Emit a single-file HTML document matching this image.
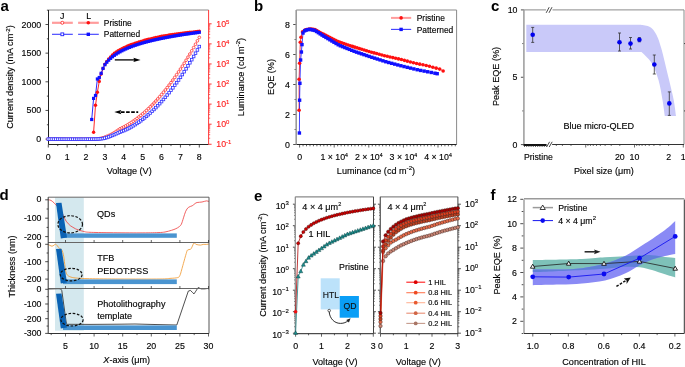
<!DOCTYPE html>
<html><head><meta charset="utf-8"><style>
html,body{margin:0;padding:0;background:#fff;width:685px;height:367px;overflow:hidden}
svg{display:block;will-change:transform}
text{font-family:"Liberation Sans",sans-serif}
</style></head><body><svg width="685" height="367" viewBox="0 0 685 367">
<rect width="685" height="367" fill="#fff"/>
<text x="0.5" y="10.5" text-anchor="start" font-size="15" fill="#000" font-weight="bold">a</text>
<line x1="48.5" y1="10" x2="208.6" y2="10" stroke="#8a8a8a" stroke-width="1" />
<line x1="45.5" y1="139.1" x2="48.5" y2="139.1" stroke="#222" stroke-width="0.8" />
<line x1="46.9" y1="124.77" x2="48.5" y2="124.77" stroke="#222" stroke-width="0.8" />
<line x1="45.5" y1="110.45" x2="48.5" y2="110.45" stroke="#222" stroke-width="0.8" />
<line x1="46.9" y1="96.12" x2="48.5" y2="96.12" stroke="#222" stroke-width="0.8" />
<line x1="45.5" y1="81.8" x2="48.5" y2="81.8" stroke="#222" stroke-width="0.8" />
<line x1="46.9" y1="67.47" x2="48.5" y2="67.47" stroke="#222" stroke-width="0.8" />
<line x1="45.5" y1="53.15" x2="48.5" y2="53.15" stroke="#222" stroke-width="0.8" />
<line x1="46.9" y1="38.83" x2="48.5" y2="38.83" stroke="#222" stroke-width="0.8" />
<line x1="45.5" y1="24.5" x2="48.5" y2="24.5" stroke="#222" stroke-width="0.8" />
<line x1="46.9" y1="10.18" x2="48.5" y2="10.18" stroke="#222" stroke-width="0.8" />
<text x="41.2" y="142.1" text-anchor="end" font-size="8.8" fill="#000"  stroke="#000" stroke-width="0.22" stroke-opacity="0.6">0</text>
<text x="41.2" y="113.45" text-anchor="end" font-size="8.8" fill="#000"  stroke="#000" stroke-width="0.22" stroke-opacity="0.6">500</text>
<text x="41.2" y="84.8" text-anchor="end" font-size="8.8" fill="#000"  stroke="#000" stroke-width="0.22" stroke-opacity="0.6">1000</text>
<text x="41.2" y="56.15" text-anchor="end" font-size="8.8" fill="#000"  stroke="#000" stroke-width="0.22" stroke-opacity="0.6">1500</text>
<text x="41.2" y="27.5" text-anchor="end" font-size="8.8" fill="#000"  stroke="#000" stroke-width="0.22" stroke-opacity="0.6">2000</text>
<line x1="48.3" y1="144.5" x2="48.3" y2="147.5" stroke="#222" stroke-width="0.8" />
<line x1="57.74" y1="144.5" x2="57.74" y2="146.1" stroke="#222" stroke-width="0.8" />
<line x1="67.17" y1="144.5" x2="67.17" y2="147.5" stroke="#222" stroke-width="0.8" />
<line x1="76.61" y1="144.5" x2="76.61" y2="146.1" stroke="#222" stroke-width="0.8" />
<line x1="86.05" y1="144.5" x2="86.05" y2="147.5" stroke="#222" stroke-width="0.8" />
<line x1="95.49" y1="144.5" x2="95.49" y2="146.1" stroke="#222" stroke-width="0.8" />
<line x1="104.92" y1="144.5" x2="104.92" y2="147.5" stroke="#222" stroke-width="0.8" />
<line x1="114.36" y1="144.5" x2="114.36" y2="146.1" stroke="#222" stroke-width="0.8" />
<line x1="123.8" y1="144.5" x2="123.8" y2="147.5" stroke="#222" stroke-width="0.8" />
<line x1="133.24" y1="144.5" x2="133.24" y2="146.1" stroke="#222" stroke-width="0.8" />
<line x1="142.68" y1="144.5" x2="142.68" y2="147.5" stroke="#222" stroke-width="0.8" />
<line x1="152.11" y1="144.5" x2="152.11" y2="146.1" stroke="#222" stroke-width="0.8" />
<line x1="161.55" y1="144.5" x2="161.55" y2="147.5" stroke="#222" stroke-width="0.8" />
<line x1="170.99" y1="144.5" x2="170.99" y2="146.1" stroke="#222" stroke-width="0.8" />
<line x1="180.43" y1="144.5" x2="180.43" y2="147.5" stroke="#222" stroke-width="0.8" />
<line x1="189.86" y1="144.5" x2="189.86" y2="146.1" stroke="#222" stroke-width="0.8" />
<line x1="199.3" y1="144.5" x2="199.3" y2="147.5" stroke="#222" stroke-width="0.8" />
<text x="48.3" y="160" text-anchor="middle" font-size="8.8" fill="#000"  stroke="#000" stroke-width="0.22" stroke-opacity="0.6">0</text>
<text x="67.17" y="160" text-anchor="middle" font-size="8.8" fill="#000"  stroke="#000" stroke-width="0.22" stroke-opacity="0.6">1</text>
<text x="86.05" y="160" text-anchor="middle" font-size="8.8" fill="#000"  stroke="#000" stroke-width="0.22" stroke-opacity="0.6">2</text>
<text x="104.92" y="160" text-anchor="middle" font-size="8.8" fill="#000"  stroke="#000" stroke-width="0.22" stroke-opacity="0.6">3</text>
<text x="123.8" y="160" text-anchor="middle" font-size="8.8" fill="#000"  stroke="#000" stroke-width="0.22" stroke-opacity="0.6">4</text>
<text x="142.68" y="160" text-anchor="middle" font-size="8.8" fill="#000"  stroke="#000" stroke-width="0.22" stroke-opacity="0.6">5</text>
<text x="161.55" y="160" text-anchor="middle" font-size="8.8" fill="#000"  stroke="#000" stroke-width="0.22" stroke-opacity="0.6">6</text>
<text x="180.43" y="160" text-anchor="middle" font-size="8.8" fill="#000"  stroke="#000" stroke-width="0.22" stroke-opacity="0.6">7</text>
<text x="199.3" y="160" text-anchor="middle" font-size="8.8" fill="#000"  stroke="#000" stroke-width="0.22" stroke-opacity="0.6">8</text>
<line x1="208.6" y1="144.28" x2="211.6" y2="144.28" stroke="#ff2020" stroke-width="0.9" />
<line x1="208.6" y1="138.24" x2="210.2" y2="138.24" stroke="#ff2020" stroke-width="0.7" />
<line x1="208.6" y1="134.7" x2="210.2" y2="134.7" stroke="#ff2020" stroke-width="0.7" />
<line x1="208.6" y1="132.19" x2="210.2" y2="132.19" stroke="#ff2020" stroke-width="0.7" />
<line x1="208.6" y1="130.24" x2="210.2" y2="130.24" stroke="#ff2020" stroke-width="0.7" />
<line x1="208.6" y1="128.65" x2="210.2" y2="128.65" stroke="#ff2020" stroke-width="0.7" />
<line x1="208.6" y1="127.31" x2="210.2" y2="127.31" stroke="#ff2020" stroke-width="0.7" />
<line x1="208.6" y1="126.15" x2="210.2" y2="126.15" stroke="#ff2020" stroke-width="0.7" />
<line x1="208.6" y1="125.12" x2="210.2" y2="125.12" stroke="#ff2020" stroke-width="0.7" />
<line x1="208.6" y1="124.2" x2="211.6" y2="124.2" stroke="#ff2020" stroke-width="0.9" />
<line x1="208.6" y1="118.16" x2="210.2" y2="118.16" stroke="#ff2020" stroke-width="0.7" />
<line x1="208.6" y1="114.62" x2="210.2" y2="114.62" stroke="#ff2020" stroke-width="0.7" />
<line x1="208.6" y1="112.11" x2="210.2" y2="112.11" stroke="#ff2020" stroke-width="0.7" />
<line x1="208.6" y1="110.16" x2="210.2" y2="110.16" stroke="#ff2020" stroke-width="0.7" />
<line x1="208.6" y1="108.57" x2="210.2" y2="108.57" stroke="#ff2020" stroke-width="0.7" />
<line x1="208.6" y1="107.23" x2="210.2" y2="107.23" stroke="#ff2020" stroke-width="0.7" />
<line x1="208.6" y1="106.07" x2="210.2" y2="106.07" stroke="#ff2020" stroke-width="0.7" />
<line x1="208.6" y1="105.04" x2="210.2" y2="105.04" stroke="#ff2020" stroke-width="0.7" />
<line x1="208.6" y1="104.12" x2="211.6" y2="104.12" stroke="#ff2020" stroke-width="0.9" />
<line x1="208.6" y1="98.08" x2="210.2" y2="98.08" stroke="#ff2020" stroke-width="0.7" />
<line x1="208.6" y1="94.54" x2="210.2" y2="94.54" stroke="#ff2020" stroke-width="0.7" />
<line x1="208.6" y1="92.03" x2="210.2" y2="92.03" stroke="#ff2020" stroke-width="0.7" />
<line x1="208.6" y1="90.08" x2="210.2" y2="90.08" stroke="#ff2020" stroke-width="0.7" />
<line x1="208.6" y1="88.49" x2="210.2" y2="88.49" stroke="#ff2020" stroke-width="0.7" />
<line x1="208.6" y1="87.15" x2="210.2" y2="87.15" stroke="#ff2020" stroke-width="0.7" />
<line x1="208.6" y1="85.99" x2="210.2" y2="85.99" stroke="#ff2020" stroke-width="0.7" />
<line x1="208.6" y1="84.96" x2="210.2" y2="84.96" stroke="#ff2020" stroke-width="0.7" />
<line x1="208.6" y1="84.04" x2="211.6" y2="84.04" stroke="#ff2020" stroke-width="0.9" />
<line x1="208.6" y1="78" x2="210.2" y2="78" stroke="#ff2020" stroke-width="0.7" />
<line x1="208.6" y1="74.46" x2="210.2" y2="74.46" stroke="#ff2020" stroke-width="0.7" />
<line x1="208.6" y1="71.95" x2="210.2" y2="71.95" stroke="#ff2020" stroke-width="0.7" />
<line x1="208.6" y1="70" x2="210.2" y2="70" stroke="#ff2020" stroke-width="0.7" />
<line x1="208.6" y1="68.41" x2="210.2" y2="68.41" stroke="#ff2020" stroke-width="0.7" />
<line x1="208.6" y1="67.07" x2="210.2" y2="67.07" stroke="#ff2020" stroke-width="0.7" />
<line x1="208.6" y1="65.91" x2="210.2" y2="65.91" stroke="#ff2020" stroke-width="0.7" />
<line x1="208.6" y1="64.88" x2="210.2" y2="64.88" stroke="#ff2020" stroke-width="0.7" />
<line x1="208.6" y1="63.96" x2="211.6" y2="63.96" stroke="#ff2020" stroke-width="0.9" />
<line x1="208.6" y1="57.92" x2="210.2" y2="57.92" stroke="#ff2020" stroke-width="0.7" />
<line x1="208.6" y1="54.38" x2="210.2" y2="54.38" stroke="#ff2020" stroke-width="0.7" />
<line x1="208.6" y1="51.87" x2="210.2" y2="51.87" stroke="#ff2020" stroke-width="0.7" />
<line x1="208.6" y1="49.92" x2="210.2" y2="49.92" stroke="#ff2020" stroke-width="0.7" />
<line x1="208.6" y1="48.33" x2="210.2" y2="48.33" stroke="#ff2020" stroke-width="0.7" />
<line x1="208.6" y1="46.99" x2="210.2" y2="46.99" stroke="#ff2020" stroke-width="0.7" />
<line x1="208.6" y1="45.83" x2="210.2" y2="45.83" stroke="#ff2020" stroke-width="0.7" />
<line x1="208.6" y1="44.8" x2="210.2" y2="44.8" stroke="#ff2020" stroke-width="0.7" />
<line x1="208.6" y1="43.88" x2="211.6" y2="43.88" stroke="#ff2020" stroke-width="0.9" />
<line x1="208.6" y1="37.84" x2="210.2" y2="37.84" stroke="#ff2020" stroke-width="0.7" />
<line x1="208.6" y1="34.3" x2="210.2" y2="34.3" stroke="#ff2020" stroke-width="0.7" />
<line x1="208.6" y1="31.79" x2="210.2" y2="31.79" stroke="#ff2020" stroke-width="0.7" />
<line x1="208.6" y1="29.84" x2="210.2" y2="29.84" stroke="#ff2020" stroke-width="0.7" />
<line x1="208.6" y1="28.25" x2="210.2" y2="28.25" stroke="#ff2020" stroke-width="0.7" />
<line x1="208.6" y1="26.91" x2="210.2" y2="26.91" stroke="#ff2020" stroke-width="0.7" />
<line x1="208.6" y1="25.75" x2="210.2" y2="25.75" stroke="#ff2020" stroke-width="0.7" />
<line x1="208.6" y1="24.72" x2="210.2" y2="24.72" stroke="#ff2020" stroke-width="0.7" />
<line x1="208.6" y1="23.8" x2="211.6" y2="23.8" stroke="#ff2020" stroke-width="0.9" />
<text x="216.3" y="147.48" text-anchor="start" font-size="8.8" fill="#ff2020"  stroke="#ff2020" stroke-width="0.22" stroke-opacity="0.6">10<tspan font-size="5.98" dy="-3.5">-1</tspan></text>
<text x="216.3" y="127.4" text-anchor="start" font-size="8.8" fill="#ff2020"  stroke="#ff2020" stroke-width="0.22" stroke-opacity="0.6">10<tspan font-size="5.98" dy="-3.5">0</tspan></text>
<text x="216.3" y="107.32" text-anchor="start" font-size="8.8" fill="#ff2020"  stroke="#ff2020" stroke-width="0.22" stroke-opacity="0.6">10<tspan font-size="5.98" dy="-3.5">1</tspan></text>
<text x="216.3" y="87.24" text-anchor="start" font-size="8.8" fill="#ff2020"  stroke="#ff2020" stroke-width="0.22" stroke-opacity="0.6">10<tspan font-size="5.98" dy="-3.5">2</tspan></text>
<text x="216.3" y="67.16" text-anchor="start" font-size="8.8" fill="#ff2020"  stroke="#ff2020" stroke-width="0.22" stroke-opacity="0.6">10<tspan font-size="5.98" dy="-3.5">3</tspan></text>
<text x="216.3" y="47.08" text-anchor="start" font-size="8.8" fill="#ff2020"  stroke="#ff2020" stroke-width="0.22" stroke-opacity="0.6">10<tspan font-size="5.98" dy="-3.5">4</tspan></text>
<text x="216.3" y="27" text-anchor="start" font-size="8.8" fill="#ff2020"  stroke="#ff2020" stroke-width="0.22" stroke-opacity="0.6">10<tspan font-size="5.98" dy="-3.5">5</tspan></text>
<line x1="48.5" y1="10" x2="48.5" y2="144.5" stroke="#222" stroke-width="1" />
<line x1="48.5" y1="144.5" x2="208.6" y2="144.5" stroke="#222" stroke-width="1" />
<line x1="208.6" y1="10" x2="208.6" y2="144.5" stroke="#ff3a3a" stroke-width="1" />
<text transform="translate(13.4,77) rotate(-90)" text-anchor="middle" font-size="9.1" fill="#000" stroke="#000" stroke-width="0.22" stroke-opacity="0.6">Current density (mA cm<tspan font-size="6.2" dy="-3.6">-2</tspan><tspan dy="3.6">)</tspan></text>
<text x="129.2" y="173.5" text-anchor="middle" font-size="9.1" fill="#000"  stroke="#000" stroke-width="0.22" stroke-opacity="0.6">Voltage (V)</text>
<text transform="translate(243.5,77) rotate(-90)" text-anchor="middle" font-size="9.1" fill="#000" stroke="#000" stroke-width="0.22" stroke-opacity="0.6">Luminance (cd m<tspan font-size="6.2" dy="-3.6">-2</tspan><tspan dy="3.6">)</tspan></text>
<polyline points="48.3,139.1 50.19,139.1 52.07,139.1 53.96,139.11 55.85,139.12 57.74,139.12 59.62,139.13 61.51,139.14 63.4,139.15 65.29,139.16 67.17,139.17 69.06,139.18 70.95,139.19 72.84,139.19 74.72,139.2 76.61,139.2 78.5,139.2 80.39,139.2 82.28,139.2 84.16,139.19 86.05,139.18 87.94,139.17 89.83,139.15 91.71,139.13 93.6,139.1 95.49,139.04 97.38,138.9 99.26,138.67 101.15,138.3 103.04,137.78 104.92,137.14 106.81,136.4 108.7,135.6 110.59,134.71 112.47,133.7 114.36,132.6 116.25,131.37 118.14,130.06 120.02,128.8 121.91,127.89 123.8,126.93 125.69,125.9 127.58,124.81 129.46,123.65 131.35,122.44 133.24,121.16 135.12,119.82 137.01,118.42 138.9,116.96 140.79,115.43 142.68,113.84 144.56,112.19 146.45,110.48 148.34,108.71 150.23,106.87 152.11,104.98 154,103.02 155.89,101 157.77,98.91 159.66,96.77 161.55,94.56 163.44,92.29 165.32,89.96 167.21,87.57 169.1,85.11 170.99,82.6 172.88,80.02 174.76,77.38 176.65,74.67 178.54,71.91 180.43,69.08 182.31,66.19 184.2,63.24 186.09,60.23 187.98,57.15 189.86,54.02 191.75,50.82 193.64,47.56 195.52,44.23 197.41,40.85 199.3,37.4" fill="none" stroke="#ff8080" stroke-width="0.8" />
<polyline points="48.3,139.1 50.19,139.1 52.07,139.1 53.96,139.11 55.85,139.11 57.74,139.12 59.62,139.12 61.51,139.13 63.4,139.14 65.29,139.14 67.17,139.15 69.06,139.16 70.95,139.16 72.84,139.17 74.72,139.17 76.61,139.17 78.5,139.18 80.39,139.18 82.28,139.18 84.16,139.17 86.05,139.17 87.94,139.16 89.83,139.15 91.71,139.14 93.6,139.12 95.49,139.1 97.38,139.05 99.26,138.95 101.15,138.77 103.04,138.5 104.92,138.09 106.81,137.53 108.7,136.9 110.59,136.19 112.47,135.41 114.36,134.6 116.25,133.78 118.14,132.93 120.02,132.1 121.91,131.39 123.8,130.62 125.69,129.78 127.58,128.88 129.46,127.92 131.35,126.88 133.24,125.79 135.12,124.63 137.01,123.4 138.9,122.11 140.79,120.75 142.68,119.33 144.56,117.85 146.45,116.3 148.34,114.68 150.23,113 152.11,111.26 154,109.45 155.89,107.58 157.77,105.64 159.66,103.63 161.55,101.57 163.44,99.43 165.32,97.23 167.21,94.97 169.1,92.64 170.99,90.25 172.88,87.79 174.76,85.27 176.65,82.69 178.54,80.03 180.43,77.32 182.31,74.54 184.2,71.69 186.09,68.78 187.98,65.8 189.86,62.76 191.75,59.66 193.64,56.49 195.52,53.25 197.41,49.95 199.3,46.59" fill="none" stroke="#6b6bff" stroke-width="0.8" />
<circle cx="48.3" cy="139.1" r="1.35" fill="#fff" stroke="#ff3030" stroke-width="0.8"/>
<circle cx="50.19" cy="139.1" r="1.35" fill="#fff" stroke="#ff3030" stroke-width="0.8"/>
<circle cx="52.07" cy="139.1" r="1.35" fill="#fff" stroke="#ff3030" stroke-width="0.8"/>
<circle cx="53.96" cy="139.11" r="1.35" fill="#fff" stroke="#ff3030" stroke-width="0.8"/>
<circle cx="55.85" cy="139.12" r="1.35" fill="#fff" stroke="#ff3030" stroke-width="0.8"/>
<circle cx="57.74" cy="139.12" r="1.35" fill="#fff" stroke="#ff3030" stroke-width="0.8"/>
<circle cx="59.62" cy="139.13" r="1.35" fill="#fff" stroke="#ff3030" stroke-width="0.8"/>
<circle cx="61.51" cy="139.14" r="1.35" fill="#fff" stroke="#ff3030" stroke-width="0.8"/>
<circle cx="63.4" cy="139.15" r="1.35" fill="#fff" stroke="#ff3030" stroke-width="0.8"/>
<circle cx="65.29" cy="139.16" r="1.35" fill="#fff" stroke="#ff3030" stroke-width="0.8"/>
<circle cx="67.17" cy="139.17" r="1.35" fill="#fff" stroke="#ff3030" stroke-width="0.8"/>
<circle cx="69.06" cy="139.18" r="1.35" fill="#fff" stroke="#ff3030" stroke-width="0.8"/>
<circle cx="70.95" cy="139.19" r="1.35" fill="#fff" stroke="#ff3030" stroke-width="0.8"/>
<circle cx="72.84" cy="139.19" r="1.35" fill="#fff" stroke="#ff3030" stroke-width="0.8"/>
<circle cx="74.72" cy="139.2" r="1.35" fill="#fff" stroke="#ff3030" stroke-width="0.8"/>
<circle cx="76.61" cy="139.2" r="1.35" fill="#fff" stroke="#ff3030" stroke-width="0.8"/>
<circle cx="78.5" cy="139.2" r="1.35" fill="#fff" stroke="#ff3030" stroke-width="0.8"/>
<circle cx="80.39" cy="139.2" r="1.35" fill="#fff" stroke="#ff3030" stroke-width="0.8"/>
<circle cx="82.28" cy="139.2" r="1.35" fill="#fff" stroke="#ff3030" stroke-width="0.8"/>
<circle cx="84.16" cy="139.19" r="1.35" fill="#fff" stroke="#ff3030" stroke-width="0.8"/>
<circle cx="86.05" cy="139.18" r="1.35" fill="#fff" stroke="#ff3030" stroke-width="0.8"/>
<circle cx="87.94" cy="139.17" r="1.35" fill="#fff" stroke="#ff3030" stroke-width="0.8"/>
<circle cx="89.83" cy="139.15" r="1.35" fill="#fff" stroke="#ff3030" stroke-width="0.8"/>
<circle cx="91.71" cy="139.13" r="1.35" fill="#fff" stroke="#ff3030" stroke-width="0.8"/>
<circle cx="93.6" cy="139.1" r="1.35" fill="#fff" stroke="#ff3030" stroke-width="0.8"/>
<circle cx="95.49" cy="139.04" r="1.35" fill="#fff" stroke="#ff3030" stroke-width="0.8"/>
<circle cx="97.38" cy="138.9" r="1.35" fill="#fff" stroke="#ff3030" stroke-width="0.8"/>
<circle cx="99.26" cy="138.67" r="1.35" fill="#fff" stroke="#ff3030" stroke-width="0.8"/>
<circle cx="101.15" cy="138.3" r="1.35" fill="#fff" stroke="#ff3030" stroke-width="0.8"/>
<circle cx="103.04" cy="137.78" r="1.35" fill="#fff" stroke="#ff3030" stroke-width="0.8"/>
<circle cx="104.92" cy="137.14" r="1.35" fill="#fff" stroke="#ff3030" stroke-width="0.8"/>
<circle cx="106.81" cy="136.4" r="1.35" fill="#fff" stroke="#ff3030" stroke-width="0.8"/>
<circle cx="108.7" cy="135.6" r="1.35" fill="#fff" stroke="#ff3030" stroke-width="0.8"/>
<circle cx="110.59" cy="134.71" r="1.35" fill="#fff" stroke="#ff3030" stroke-width="0.8"/>
<circle cx="112.47" cy="133.7" r="1.35" fill="#fff" stroke="#ff3030" stroke-width="0.8"/>
<circle cx="114.36" cy="132.6" r="1.35" fill="#fff" stroke="#ff3030" stroke-width="0.8"/>
<circle cx="116.25" cy="131.37" r="1.35" fill="#fff" stroke="#ff3030" stroke-width="0.8"/>
<circle cx="118.14" cy="130.06" r="1.35" fill="#fff" stroke="#ff3030" stroke-width="0.8"/>
<circle cx="120.02" cy="128.8" r="1.35" fill="#fff" stroke="#ff3030" stroke-width="0.8"/>
<circle cx="121.91" cy="127.89" r="1.35" fill="#fff" stroke="#ff3030" stroke-width="0.8"/>
<circle cx="123.8" cy="126.93" r="1.35" fill="#fff" stroke="#ff3030" stroke-width="0.8"/>
<circle cx="125.69" cy="125.9" r="1.35" fill="#fff" stroke="#ff3030" stroke-width="0.8"/>
<circle cx="127.58" cy="124.81" r="1.35" fill="#fff" stroke="#ff3030" stroke-width="0.8"/>
<circle cx="129.46" cy="123.65" r="1.35" fill="#fff" stroke="#ff3030" stroke-width="0.8"/>
<circle cx="131.35" cy="122.44" r="1.35" fill="#fff" stroke="#ff3030" stroke-width="0.8"/>
<circle cx="133.24" cy="121.16" r="1.35" fill="#fff" stroke="#ff3030" stroke-width="0.8"/>
<circle cx="135.12" cy="119.82" r="1.35" fill="#fff" stroke="#ff3030" stroke-width="0.8"/>
<circle cx="137.01" cy="118.42" r="1.35" fill="#fff" stroke="#ff3030" stroke-width="0.8"/>
<circle cx="138.9" cy="116.96" r="1.35" fill="#fff" stroke="#ff3030" stroke-width="0.8"/>
<circle cx="140.79" cy="115.43" r="1.35" fill="#fff" stroke="#ff3030" stroke-width="0.8"/>
<circle cx="142.68" cy="113.84" r="1.35" fill="#fff" stroke="#ff3030" stroke-width="0.8"/>
<circle cx="144.56" cy="112.19" r="1.35" fill="#fff" stroke="#ff3030" stroke-width="0.8"/>
<circle cx="146.45" cy="110.48" r="1.35" fill="#fff" stroke="#ff3030" stroke-width="0.8"/>
<circle cx="148.34" cy="108.71" r="1.35" fill="#fff" stroke="#ff3030" stroke-width="0.8"/>
<circle cx="150.23" cy="106.87" r="1.35" fill="#fff" stroke="#ff3030" stroke-width="0.8"/>
<circle cx="152.11" cy="104.98" r="1.35" fill="#fff" stroke="#ff3030" stroke-width="0.8"/>
<circle cx="154" cy="103.02" r="1.35" fill="#fff" stroke="#ff3030" stroke-width="0.8"/>
<circle cx="155.89" cy="101" r="1.35" fill="#fff" stroke="#ff3030" stroke-width="0.8"/>
<circle cx="157.77" cy="98.91" r="1.35" fill="#fff" stroke="#ff3030" stroke-width="0.8"/>
<circle cx="159.66" cy="96.77" r="1.35" fill="#fff" stroke="#ff3030" stroke-width="0.8"/>
<circle cx="161.55" cy="94.56" r="1.35" fill="#fff" stroke="#ff3030" stroke-width="0.8"/>
<circle cx="163.44" cy="92.29" r="1.35" fill="#fff" stroke="#ff3030" stroke-width="0.8"/>
<circle cx="165.32" cy="89.96" r="1.35" fill="#fff" stroke="#ff3030" stroke-width="0.8"/>
<circle cx="167.21" cy="87.57" r="1.35" fill="#fff" stroke="#ff3030" stroke-width="0.8"/>
<circle cx="169.1" cy="85.11" r="1.35" fill="#fff" stroke="#ff3030" stroke-width="0.8"/>
<circle cx="170.99" cy="82.6" r="1.35" fill="#fff" stroke="#ff3030" stroke-width="0.8"/>
<circle cx="172.88" cy="80.02" r="1.35" fill="#fff" stroke="#ff3030" stroke-width="0.8"/>
<circle cx="174.76" cy="77.38" r="1.35" fill="#fff" stroke="#ff3030" stroke-width="0.8"/>
<circle cx="176.65" cy="74.67" r="1.35" fill="#fff" stroke="#ff3030" stroke-width="0.8"/>
<circle cx="178.54" cy="71.91" r="1.35" fill="#fff" stroke="#ff3030" stroke-width="0.8"/>
<circle cx="180.43" cy="69.08" r="1.35" fill="#fff" stroke="#ff3030" stroke-width="0.8"/>
<circle cx="182.31" cy="66.19" r="1.35" fill="#fff" stroke="#ff3030" stroke-width="0.8"/>
<circle cx="184.2" cy="63.24" r="1.35" fill="#fff" stroke="#ff3030" stroke-width="0.8"/>
<circle cx="186.09" cy="60.23" r="1.35" fill="#fff" stroke="#ff3030" stroke-width="0.8"/>
<circle cx="187.98" cy="57.15" r="1.35" fill="#fff" stroke="#ff3030" stroke-width="0.8"/>
<circle cx="189.86" cy="54.02" r="1.35" fill="#fff" stroke="#ff3030" stroke-width="0.8"/>
<circle cx="191.75" cy="50.82" r="1.35" fill="#fff" stroke="#ff3030" stroke-width="0.8"/>
<circle cx="193.64" cy="47.56" r="1.35" fill="#fff" stroke="#ff3030" stroke-width="0.8"/>
<circle cx="195.52" cy="44.23" r="1.35" fill="#fff" stroke="#ff3030" stroke-width="0.8"/>
<circle cx="197.41" cy="40.85" r="1.35" fill="#fff" stroke="#ff3030" stroke-width="0.8"/>
<circle cx="199.3" cy="37.4" r="1.35" fill="#fff" stroke="#ff3030" stroke-width="0.8"/>
<rect x="47" y="137.8" width="2.6" height="2.6" fill="#fff" stroke="#3030ff" stroke-width="0.8" />
<rect x="48.89" y="137.8" width="2.6" height="2.6" fill="#fff" stroke="#3030ff" stroke-width="0.8" />
<rect x="50.77" y="137.8" width="2.6" height="2.6" fill="#fff" stroke="#3030ff" stroke-width="0.8" />
<rect x="52.66" y="137.81" width="2.6" height="2.6" fill="#fff" stroke="#3030ff" stroke-width="0.8" />
<rect x="54.55" y="137.81" width="2.6" height="2.6" fill="#fff" stroke="#3030ff" stroke-width="0.8" />
<rect x="56.44" y="137.82" width="2.6" height="2.6" fill="#fff" stroke="#3030ff" stroke-width="0.8" />
<rect x="58.33" y="137.82" width="2.6" height="2.6" fill="#fff" stroke="#3030ff" stroke-width="0.8" />
<rect x="60.21" y="137.83" width="2.6" height="2.6" fill="#fff" stroke="#3030ff" stroke-width="0.8" />
<rect x="62.1" y="137.84" width="2.6" height="2.6" fill="#fff" stroke="#3030ff" stroke-width="0.8" />
<rect x="63.99" y="137.84" width="2.6" height="2.6" fill="#fff" stroke="#3030ff" stroke-width="0.8" />
<rect x="65.88" y="137.85" width="2.6" height="2.6" fill="#fff" stroke="#3030ff" stroke-width="0.8" />
<rect x="67.76" y="137.86" width="2.6" height="2.6" fill="#fff" stroke="#3030ff" stroke-width="0.8" />
<rect x="69.65" y="137.86" width="2.6" height="2.6" fill="#fff" stroke="#3030ff" stroke-width="0.8" />
<rect x="71.54" y="137.87" width="2.6" height="2.6" fill="#fff" stroke="#3030ff" stroke-width="0.8" />
<rect x="73.42" y="137.87" width="2.6" height="2.6" fill="#fff" stroke="#3030ff" stroke-width="0.8" />
<rect x="75.31" y="137.87" width="2.6" height="2.6" fill="#fff" stroke="#3030ff" stroke-width="0.8" />
<rect x="77.2" y="137.88" width="2.6" height="2.6" fill="#fff" stroke="#3030ff" stroke-width="0.8" />
<rect x="79.09" y="137.88" width="2.6" height="2.6" fill="#fff" stroke="#3030ff" stroke-width="0.8" />
<rect x="80.98" y="137.88" width="2.6" height="2.6" fill="#fff" stroke="#3030ff" stroke-width="0.8" />
<rect x="82.86" y="137.87" width="2.6" height="2.6" fill="#fff" stroke="#3030ff" stroke-width="0.8" />
<rect x="84.75" y="137.87" width="2.6" height="2.6" fill="#fff" stroke="#3030ff" stroke-width="0.8" />
<rect x="86.64" y="137.86" width="2.6" height="2.6" fill="#fff" stroke="#3030ff" stroke-width="0.8" />
<rect x="88.53" y="137.85" width="2.6" height="2.6" fill="#fff" stroke="#3030ff" stroke-width="0.8" />
<rect x="90.41" y="137.84" width="2.6" height="2.6" fill="#fff" stroke="#3030ff" stroke-width="0.8" />
<rect x="92.3" y="137.82" width="2.6" height="2.6" fill="#fff" stroke="#3030ff" stroke-width="0.8" />
<rect x="94.19" y="137.8" width="2.6" height="2.6" fill="#fff" stroke="#3030ff" stroke-width="0.8" />
<rect x="96.08" y="137.75" width="2.6" height="2.6" fill="#fff" stroke="#3030ff" stroke-width="0.8" />
<rect x="97.96" y="137.65" width="2.6" height="2.6" fill="#fff" stroke="#3030ff" stroke-width="0.8" />
<rect x="99.85" y="137.47" width="2.6" height="2.6" fill="#fff" stroke="#3030ff" stroke-width="0.8" />
<rect x="101.74" y="137.2" width="2.6" height="2.6" fill="#fff" stroke="#3030ff" stroke-width="0.8" />
<rect x="103.62" y="136.79" width="2.6" height="2.6" fill="#fff" stroke="#3030ff" stroke-width="0.8" />
<rect x="105.51" y="136.23" width="2.6" height="2.6" fill="#fff" stroke="#3030ff" stroke-width="0.8" />
<rect x="107.4" y="135.6" width="2.6" height="2.6" fill="#fff" stroke="#3030ff" stroke-width="0.8" />
<rect x="109.29" y="134.89" width="2.6" height="2.6" fill="#fff" stroke="#3030ff" stroke-width="0.8" />
<rect x="111.17" y="134.11" width="2.6" height="2.6" fill="#fff" stroke="#3030ff" stroke-width="0.8" />
<rect x="113.06" y="133.3" width="2.6" height="2.6" fill="#fff" stroke="#3030ff" stroke-width="0.8" />
<rect x="114.95" y="132.48" width="2.6" height="2.6" fill="#fff" stroke="#3030ff" stroke-width="0.8" />
<rect x="116.84" y="131.63" width="2.6" height="2.6" fill="#fff" stroke="#3030ff" stroke-width="0.8" />
<rect x="118.72" y="130.8" width="2.6" height="2.6" fill="#fff" stroke="#3030ff" stroke-width="0.8" />
<rect x="120.61" y="130.09" width="2.6" height="2.6" fill="#fff" stroke="#3030ff" stroke-width="0.8" />
<rect x="122.5" y="129.32" width="2.6" height="2.6" fill="#fff" stroke="#3030ff" stroke-width="0.8" />
<rect x="124.39" y="128.48" width="2.6" height="2.6" fill="#fff" stroke="#3030ff" stroke-width="0.8" />
<rect x="126.28" y="127.58" width="2.6" height="2.6" fill="#fff" stroke="#3030ff" stroke-width="0.8" />
<rect x="128.16" y="126.62" width="2.6" height="2.6" fill="#fff" stroke="#3030ff" stroke-width="0.8" />
<rect x="130.05" y="125.58" width="2.6" height="2.6" fill="#fff" stroke="#3030ff" stroke-width="0.8" />
<rect x="131.94" y="124.49" width="2.6" height="2.6" fill="#fff" stroke="#3030ff" stroke-width="0.8" />
<rect x="133.82" y="123.33" width="2.6" height="2.6" fill="#fff" stroke="#3030ff" stroke-width="0.8" />
<rect x="135.71" y="122.1" width="2.6" height="2.6" fill="#fff" stroke="#3030ff" stroke-width="0.8" />
<rect x="137.6" y="120.81" width="2.6" height="2.6" fill="#fff" stroke="#3030ff" stroke-width="0.8" />
<rect x="139.49" y="119.45" width="2.6" height="2.6" fill="#fff" stroke="#3030ff" stroke-width="0.8" />
<rect x="141.38" y="118.03" width="2.6" height="2.6" fill="#fff" stroke="#3030ff" stroke-width="0.8" />
<rect x="143.26" y="116.55" width="2.6" height="2.6" fill="#fff" stroke="#3030ff" stroke-width="0.8" />
<rect x="145.15" y="115" width="2.6" height="2.6" fill="#fff" stroke="#3030ff" stroke-width="0.8" />
<rect x="147.04" y="113.38" width="2.6" height="2.6" fill="#fff" stroke="#3030ff" stroke-width="0.8" />
<rect x="148.93" y="111.7" width="2.6" height="2.6" fill="#fff" stroke="#3030ff" stroke-width="0.8" />
<rect x="150.81" y="109.96" width="2.6" height="2.6" fill="#fff" stroke="#3030ff" stroke-width="0.8" />
<rect x="152.7" y="108.15" width="2.6" height="2.6" fill="#fff" stroke="#3030ff" stroke-width="0.8" />
<rect x="154.59" y="106.28" width="2.6" height="2.6" fill="#fff" stroke="#3030ff" stroke-width="0.8" />
<rect x="156.47" y="104.34" width="2.6" height="2.6" fill="#fff" stroke="#3030ff" stroke-width="0.8" />
<rect x="158.36" y="102.33" width="2.6" height="2.6" fill="#fff" stroke="#3030ff" stroke-width="0.8" />
<rect x="160.25" y="100.27" width="2.6" height="2.6" fill="#fff" stroke="#3030ff" stroke-width="0.8" />
<rect x="162.14" y="98.13" width="2.6" height="2.6" fill="#fff" stroke="#3030ff" stroke-width="0.8" />
<rect x="164.02" y="95.93" width="2.6" height="2.6" fill="#fff" stroke="#3030ff" stroke-width="0.8" />
<rect x="165.91" y="93.67" width="2.6" height="2.6" fill="#fff" stroke="#3030ff" stroke-width="0.8" />
<rect x="167.8" y="91.34" width="2.6" height="2.6" fill="#fff" stroke="#3030ff" stroke-width="0.8" />
<rect x="169.69" y="88.95" width="2.6" height="2.6" fill="#fff" stroke="#3030ff" stroke-width="0.8" />
<rect x="171.57" y="86.49" width="2.6" height="2.6" fill="#fff" stroke="#3030ff" stroke-width="0.8" />
<rect x="173.46" y="83.97" width="2.6" height="2.6" fill="#fff" stroke="#3030ff" stroke-width="0.8" />
<rect x="175.35" y="81.39" width="2.6" height="2.6" fill="#fff" stroke="#3030ff" stroke-width="0.8" />
<rect x="177.24" y="78.73" width="2.6" height="2.6" fill="#fff" stroke="#3030ff" stroke-width="0.8" />
<rect x="179.12" y="76.02" width="2.6" height="2.6" fill="#fff" stroke="#3030ff" stroke-width="0.8" />
<rect x="181.01" y="73.24" width="2.6" height="2.6" fill="#fff" stroke="#3030ff" stroke-width="0.8" />
<rect x="182.9" y="70.39" width="2.6" height="2.6" fill="#fff" stroke="#3030ff" stroke-width="0.8" />
<rect x="184.79" y="67.48" width="2.6" height="2.6" fill="#fff" stroke="#3030ff" stroke-width="0.8" />
<rect x="186.68" y="64.5" width="2.6" height="2.6" fill="#fff" stroke="#3030ff" stroke-width="0.8" />
<rect x="188.56" y="61.46" width="2.6" height="2.6" fill="#fff" stroke="#3030ff" stroke-width="0.8" />
<rect x="190.45" y="58.36" width="2.6" height="2.6" fill="#fff" stroke="#3030ff" stroke-width="0.8" />
<rect x="192.34" y="55.19" width="2.6" height="2.6" fill="#fff" stroke="#3030ff" stroke-width="0.8" />
<rect x="194.22" y="51.95" width="2.6" height="2.6" fill="#fff" stroke="#3030ff" stroke-width="0.8" />
<rect x="196.11" y="48.65" width="2.6" height="2.6" fill="#fff" stroke="#3030ff" stroke-width="0.8" />
<rect x="198" y="45.29" width="2.6" height="2.6" fill="#fff" stroke="#3030ff" stroke-width="0.8" />
<polyline points="93.6,132.3 95.49,105.3 97.38,92.3 99.26,81.4 101.15,74 103.04,68.5 104.92,64.19 106.81,61.41 108.7,59.01 110.59,56.88 112.47,54.97 114.36,53.23 116.25,51.94 118.14,50.77 120.02,49.69 121.91,48.68 123.8,47.75 125.69,46.88 127.58,46.06 129.46,45.29 131.35,44.56 133.24,43.87 135.12,43.21 137.01,42.58 138.9,41.98 140.79,41.4 142.68,40.85 144.56,40.32 146.45,39.81 148.34,39.32 150.23,38.85 152.11,38.39 154,37.94 155.89,37.52 157.77,37.1 159.66,36.7 161.55,36.31 163.44,35.98 165.32,35.66 167.21,35.36 169.1,35.06 170.99,34.78 172.88,34.5 174.76,34.23 176.65,33.96 178.54,33.71 180.43,33.46 182.31,33.22 184.2,32.98 186.09,32.75 187.98,32.53 189.86,32.31 191.75,32.1 193.64,31.89 195.52,31.69 197.41,31.49 199.3,31.3" fill="none" stroke="#ff1010" stroke-width="0.9" />
<polyline points="91.71,119.5 93.6,98.4 95.49,95.5 97.38,79 99.26,77.5 101.15,73.3 103.04,68.4 104.92,64.7 106.81,62.23 108.7,60.15 110.59,58.34 112.47,56.75 114.36,55.33 116.25,54.04 118.14,52.87 120.02,51.79 121.91,50.78 123.8,49.85 125.69,48.98 127.58,48.16 129.46,47.39 131.35,46.66 133.24,45.97 135.12,45.31 137.01,44.68 138.9,44.08 140.79,43.5 142.68,42.95 144.56,42.42 146.45,41.91 148.34,41.42 150.23,40.95 152.11,40.49 154,40.04 155.89,39.62 157.77,39.2 159.66,38.8 161.55,38.41 163.44,38.02 165.32,37.65 167.21,37.29 169.1,36.94 170.99,36.6 172.88,36.27 174.76,35.94 176.65,35.62 178.54,35.31 180.43,35.01 182.31,34.71 184.2,34.42 186.09,34.14 187.98,33.86 189.86,33.59 191.75,33.32 193.64,33.06 195.52,32.8 197.41,32.55 199.3,32.3" fill="none" stroke="#1010ff" stroke-width="0.9" />
<circle cx="93.6" cy="132.3" r="1.7" fill="#ff1010" stroke="none" stroke-width="0"/>
<circle cx="95.49" cy="105.3" r="1.7" fill="#ff1010" stroke="none" stroke-width="0"/>
<circle cx="97.38" cy="92.3" r="1.7" fill="#ff1010" stroke="none" stroke-width="0"/>
<circle cx="99.26" cy="81.4" r="1.7" fill="#ff1010" stroke="none" stroke-width="0"/>
<circle cx="101.15" cy="74" r="1.7" fill="#ff1010" stroke="none" stroke-width="0"/>
<circle cx="103.04" cy="68.5" r="1.7" fill="#ff1010" stroke="none" stroke-width="0"/>
<circle cx="104.92" cy="64.19" r="1.7" fill="#ff1010" stroke="none" stroke-width="0"/>
<circle cx="106.81" cy="61.41" r="1.7" fill="#ff1010" stroke="none" stroke-width="0"/>
<circle cx="108.7" cy="59.01" r="1.7" fill="#ff1010" stroke="none" stroke-width="0"/>
<circle cx="110.59" cy="56.88" r="1.7" fill="#ff1010" stroke="none" stroke-width="0"/>
<circle cx="112.47" cy="54.97" r="1.7" fill="#ff1010" stroke="none" stroke-width="0"/>
<circle cx="114.36" cy="53.23" r="1.7" fill="#ff1010" stroke="none" stroke-width="0"/>
<circle cx="116.25" cy="51.94" r="1.7" fill="#ff1010" stroke="none" stroke-width="0"/>
<circle cx="118.14" cy="50.77" r="1.7" fill="#ff1010" stroke="none" stroke-width="0"/>
<circle cx="120.02" cy="49.69" r="1.7" fill="#ff1010" stroke="none" stroke-width="0"/>
<circle cx="121.91" cy="48.68" r="1.7" fill="#ff1010" stroke="none" stroke-width="0"/>
<circle cx="123.8" cy="47.75" r="1.7" fill="#ff1010" stroke="none" stroke-width="0"/>
<circle cx="125.69" cy="46.88" r="1.7" fill="#ff1010" stroke="none" stroke-width="0"/>
<circle cx="127.58" cy="46.06" r="1.7" fill="#ff1010" stroke="none" stroke-width="0"/>
<circle cx="129.46" cy="45.29" r="1.7" fill="#ff1010" stroke="none" stroke-width="0"/>
<circle cx="131.35" cy="44.56" r="1.7" fill="#ff1010" stroke="none" stroke-width="0"/>
<circle cx="133.24" cy="43.87" r="1.7" fill="#ff1010" stroke="none" stroke-width="0"/>
<circle cx="135.12" cy="43.21" r="1.7" fill="#ff1010" stroke="none" stroke-width="0"/>
<circle cx="137.01" cy="42.58" r="1.7" fill="#ff1010" stroke="none" stroke-width="0"/>
<circle cx="138.9" cy="41.98" r="1.7" fill="#ff1010" stroke="none" stroke-width="0"/>
<circle cx="140.79" cy="41.4" r="1.7" fill="#ff1010" stroke="none" stroke-width="0"/>
<circle cx="142.68" cy="40.85" r="1.7" fill="#ff1010" stroke="none" stroke-width="0"/>
<circle cx="144.56" cy="40.32" r="1.7" fill="#ff1010" stroke="none" stroke-width="0"/>
<circle cx="146.45" cy="39.81" r="1.7" fill="#ff1010" stroke="none" stroke-width="0"/>
<circle cx="148.34" cy="39.32" r="1.7" fill="#ff1010" stroke="none" stroke-width="0"/>
<circle cx="150.23" cy="38.85" r="1.7" fill="#ff1010" stroke="none" stroke-width="0"/>
<circle cx="152.11" cy="38.39" r="1.7" fill="#ff1010" stroke="none" stroke-width="0"/>
<circle cx="154" cy="37.94" r="1.7" fill="#ff1010" stroke="none" stroke-width="0"/>
<circle cx="155.89" cy="37.52" r="1.7" fill="#ff1010" stroke="none" stroke-width="0"/>
<circle cx="157.77" cy="37.1" r="1.7" fill="#ff1010" stroke="none" stroke-width="0"/>
<circle cx="159.66" cy="36.7" r="1.7" fill="#ff1010" stroke="none" stroke-width="0"/>
<circle cx="161.55" cy="36.31" r="1.7" fill="#ff1010" stroke="none" stroke-width="0"/>
<circle cx="163.44" cy="35.98" r="1.7" fill="#ff1010" stroke="none" stroke-width="0"/>
<circle cx="165.32" cy="35.66" r="1.7" fill="#ff1010" stroke="none" stroke-width="0"/>
<circle cx="167.21" cy="35.36" r="1.7" fill="#ff1010" stroke="none" stroke-width="0"/>
<circle cx="169.1" cy="35.06" r="1.7" fill="#ff1010" stroke="none" stroke-width="0"/>
<circle cx="170.99" cy="34.78" r="1.7" fill="#ff1010" stroke="none" stroke-width="0"/>
<circle cx="172.88" cy="34.5" r="1.7" fill="#ff1010" stroke="none" stroke-width="0"/>
<circle cx="174.76" cy="34.23" r="1.7" fill="#ff1010" stroke="none" stroke-width="0"/>
<circle cx="176.65" cy="33.96" r="1.7" fill="#ff1010" stroke="none" stroke-width="0"/>
<circle cx="178.54" cy="33.71" r="1.7" fill="#ff1010" stroke="none" stroke-width="0"/>
<circle cx="180.43" cy="33.46" r="1.7" fill="#ff1010" stroke="none" stroke-width="0"/>
<circle cx="182.31" cy="33.22" r="1.7" fill="#ff1010" stroke="none" stroke-width="0"/>
<circle cx="184.2" cy="32.98" r="1.7" fill="#ff1010" stroke="none" stroke-width="0"/>
<circle cx="186.09" cy="32.75" r="1.7" fill="#ff1010" stroke="none" stroke-width="0"/>
<circle cx="187.98" cy="32.53" r="1.7" fill="#ff1010" stroke="none" stroke-width="0"/>
<circle cx="189.86" cy="32.31" r="1.7" fill="#ff1010" stroke="none" stroke-width="0"/>
<circle cx="191.75" cy="32.1" r="1.7" fill="#ff1010" stroke="none" stroke-width="0"/>
<circle cx="193.64" cy="31.89" r="1.7" fill="#ff1010" stroke="none" stroke-width="0"/>
<circle cx="195.52" cy="31.69" r="1.7" fill="#ff1010" stroke="none" stroke-width="0"/>
<circle cx="197.41" cy="31.49" r="1.7" fill="#ff1010" stroke="none" stroke-width="0"/>
<circle cx="199.3" cy="31.3" r="1.7" fill="#ff1010" stroke="none" stroke-width="0"/>
<rect x="90.11" y="117.9" width="3.2" height="3.2" fill="#1010ff" stroke="none" stroke-width="0" />
<rect x="92" y="96.8" width="3.2" height="3.2" fill="#1010ff" stroke="none" stroke-width="0" />
<rect x="93.89" y="93.9" width="3.2" height="3.2" fill="#1010ff" stroke="none" stroke-width="0" />
<rect x="95.78" y="77.4" width="3.2" height="3.2" fill="#1010ff" stroke="none" stroke-width="0" />
<rect x="97.66" y="75.9" width="3.2" height="3.2" fill="#1010ff" stroke="none" stroke-width="0" />
<rect x="99.55" y="71.7" width="3.2" height="3.2" fill="#1010ff" stroke="none" stroke-width="0" />
<rect x="101.44" y="66.8" width="3.2" height="3.2" fill="#1010ff" stroke="none" stroke-width="0" />
<rect x="103.33" y="63.1" width="3.2" height="3.2" fill="#1010ff" stroke="none" stroke-width="0" />
<rect x="105.21" y="60.63" width="3.2" height="3.2" fill="#1010ff" stroke="none" stroke-width="0" />
<rect x="107.1" y="58.55" width="3.2" height="3.2" fill="#1010ff" stroke="none" stroke-width="0" />
<rect x="108.99" y="56.74" width="3.2" height="3.2" fill="#1010ff" stroke="none" stroke-width="0" />
<rect x="110.88" y="55.15" width="3.2" height="3.2" fill="#1010ff" stroke="none" stroke-width="0" />
<rect x="112.76" y="53.73" width="3.2" height="3.2" fill="#1010ff" stroke="none" stroke-width="0" />
<rect x="114.65" y="52.44" width="3.2" height="3.2" fill="#1010ff" stroke="none" stroke-width="0" />
<rect x="116.54" y="51.27" width="3.2" height="3.2" fill="#1010ff" stroke="none" stroke-width="0" />
<rect x="118.42" y="50.19" width="3.2" height="3.2" fill="#1010ff" stroke="none" stroke-width="0" />
<rect x="120.31" y="49.18" width="3.2" height="3.2" fill="#1010ff" stroke="none" stroke-width="0" />
<rect x="122.2" y="48.25" width="3.2" height="3.2" fill="#1010ff" stroke="none" stroke-width="0" />
<rect x="124.09" y="47.38" width="3.2" height="3.2" fill="#1010ff" stroke="none" stroke-width="0" />
<rect x="125.98" y="46.56" width="3.2" height="3.2" fill="#1010ff" stroke="none" stroke-width="0" />
<rect x="127.86" y="45.79" width="3.2" height="3.2" fill="#1010ff" stroke="none" stroke-width="0" />
<rect x="129.75" y="45.06" width="3.2" height="3.2" fill="#1010ff" stroke="none" stroke-width="0" />
<rect x="131.64" y="44.37" width="3.2" height="3.2" fill="#1010ff" stroke="none" stroke-width="0" />
<rect x="133.53" y="43.71" width="3.2" height="3.2" fill="#1010ff" stroke="none" stroke-width="0" />
<rect x="135.41" y="43.08" width="3.2" height="3.2" fill="#1010ff" stroke="none" stroke-width="0" />
<rect x="137.3" y="42.48" width="3.2" height="3.2" fill="#1010ff" stroke="none" stroke-width="0" />
<rect x="139.19" y="41.9" width="3.2" height="3.2" fill="#1010ff" stroke="none" stroke-width="0" />
<rect x="141.08" y="41.35" width="3.2" height="3.2" fill="#1010ff" stroke="none" stroke-width="0" />
<rect x="142.96" y="40.82" width="3.2" height="3.2" fill="#1010ff" stroke="none" stroke-width="0" />
<rect x="144.85" y="40.31" width="3.2" height="3.2" fill="#1010ff" stroke="none" stroke-width="0" />
<rect x="146.74" y="39.82" width="3.2" height="3.2" fill="#1010ff" stroke="none" stroke-width="0" />
<rect x="148.63" y="39.35" width="3.2" height="3.2" fill="#1010ff" stroke="none" stroke-width="0" />
<rect x="150.51" y="38.89" width="3.2" height="3.2" fill="#1010ff" stroke="none" stroke-width="0" />
<rect x="152.4" y="38.44" width="3.2" height="3.2" fill="#1010ff" stroke="none" stroke-width="0" />
<rect x="154.29" y="38.02" width="3.2" height="3.2" fill="#1010ff" stroke="none" stroke-width="0" />
<rect x="156.17" y="37.6" width="3.2" height="3.2" fill="#1010ff" stroke="none" stroke-width="0" />
<rect x="158.06" y="37.2" width="3.2" height="3.2" fill="#1010ff" stroke="none" stroke-width="0" />
<rect x="159.95" y="36.81" width="3.2" height="3.2" fill="#1010ff" stroke="none" stroke-width="0" />
<rect x="161.84" y="36.42" width="3.2" height="3.2" fill="#1010ff" stroke="none" stroke-width="0" />
<rect x="163.72" y="36.05" width="3.2" height="3.2" fill="#1010ff" stroke="none" stroke-width="0" />
<rect x="165.61" y="35.69" width="3.2" height="3.2" fill="#1010ff" stroke="none" stroke-width="0" />
<rect x="167.5" y="35.34" width="3.2" height="3.2" fill="#1010ff" stroke="none" stroke-width="0" />
<rect x="169.39" y="35" width="3.2" height="3.2" fill="#1010ff" stroke="none" stroke-width="0" />
<rect x="171.28" y="34.67" width="3.2" height="3.2" fill="#1010ff" stroke="none" stroke-width="0" />
<rect x="173.16" y="34.34" width="3.2" height="3.2" fill="#1010ff" stroke="none" stroke-width="0" />
<rect x="175.05" y="34.02" width="3.2" height="3.2" fill="#1010ff" stroke="none" stroke-width="0" />
<rect x="176.94" y="33.71" width="3.2" height="3.2" fill="#1010ff" stroke="none" stroke-width="0" />
<rect x="178.83" y="33.41" width="3.2" height="3.2" fill="#1010ff" stroke="none" stroke-width="0" />
<rect x="180.71" y="33.11" width="3.2" height="3.2" fill="#1010ff" stroke="none" stroke-width="0" />
<rect x="182.6" y="32.82" width="3.2" height="3.2" fill="#1010ff" stroke="none" stroke-width="0" />
<rect x="184.49" y="32.54" width="3.2" height="3.2" fill="#1010ff" stroke="none" stroke-width="0" />
<rect x="186.38" y="32.26" width="3.2" height="3.2" fill="#1010ff" stroke="none" stroke-width="0" />
<rect x="188.26" y="31.99" width="3.2" height="3.2" fill="#1010ff" stroke="none" stroke-width="0" />
<rect x="190.15" y="31.72" width="3.2" height="3.2" fill="#1010ff" stroke="none" stroke-width="0" />
<rect x="192.04" y="31.46" width="3.2" height="3.2" fill="#1010ff" stroke="none" stroke-width="0" />
<rect x="193.92" y="31.2" width="3.2" height="3.2" fill="#1010ff" stroke="none" stroke-width="0" />
<rect x="195.81" y="30.95" width="3.2" height="3.2" fill="#1010ff" stroke="none" stroke-width="0" />
<rect x="197.7" y="30.7" width="3.2" height="3.2" fill="#1010ff" stroke="none" stroke-width="0" />
<line x1="114.8" y1="59.9" x2="135" y2="59.9" stroke="#000" stroke-width="1.3" />
<path d="M140.6,59.9 L133.4,57.8 L134.4,59.9 L133.4,62 Z" fill="#000"/>
<line x1="121" y1="112.1" x2="138.2" y2="112.1" stroke="#000" stroke-width="1.6" stroke-dasharray="3.6,1.5"/>
<path d="M114.3,112.1 L121.3,110 L120.3,112.1 L121.3,114.2 Z" fill="#000"/>
<text x="62.3" y="18.9" text-anchor="middle" font-size="8.8" fill="#000"  stroke="#000" stroke-width="0.22" stroke-opacity="0.6">J</text>
<text x="88.6" y="18.9" text-anchor="middle" font-size="8.8" fill="#000"  stroke="#000" stroke-width="0.22" stroke-opacity="0.6">L</text>
<line x1="52" y1="22.8" x2="72.8" y2="22.8" stroke="#ff9c9c" stroke-width="2.2" />
<line x1="78.1" y1="22.8" x2="98.8" y2="22.8" stroke="#ff9c9c" stroke-width="2.2" />
<circle cx="62.3" cy="22.8" r="1.5" fill="#fff" stroke="#ff3030" stroke-width="0.9"/>
<circle cx="88.3" cy="22.8" r="1.8" fill="#ff1010" stroke="none" stroke-width="0"/>
<text x="103.8" y="26.4" text-anchor="start" font-size="8.4" fill="#000"  stroke="#000" stroke-width="0.22" stroke-opacity="0.6">Pristine</text>
<line x1="52" y1="34.3" x2="72.8" y2="34.3" stroke="#3a3aff" stroke-width="1.1" />
<line x1="78.1" y1="34.3" x2="98.8" y2="34.3" stroke="#3a3aff" stroke-width="1.1" />
<rect x="60.9" y="32.9" width="2.8" height="2.8" fill="#fff" stroke="#2020ff" stroke-width="0.9" />
<rect x="86.6" y="32.6" width="3.4" height="3.4" fill="#1010ff" stroke="none" stroke-width="0" />
<text x="103.8" y="37.4" text-anchor="start" font-size="8.4" fill="#000"  stroke="#000" stroke-width="0.22" stroke-opacity="0.6">Patterned</text>
<text x="254" y="10.6" text-anchor="start" font-size="15" fill="#000" font-weight="bold">b</text>
<line x1="296.2" y1="10" x2="456.6" y2="10" stroke="#8a8a8a" stroke-width="1" />
<line x1="456.6" y1="10" x2="456.6" y2="144.5" stroke="#8a8a8a" stroke-width="1" />
<line x1="293.2" y1="144.5" x2="296.2" y2="144.5" stroke="#222" stroke-width="0.8" />
<line x1="294.6" y1="129.5" x2="296.2" y2="129.5" stroke="#222" stroke-width="0.8" />
<line x1="293.2" y1="114.5" x2="296.2" y2="114.5" stroke="#222" stroke-width="0.8" />
<line x1="294.6" y1="99.5" x2="296.2" y2="99.5" stroke="#222" stroke-width="0.8" />
<line x1="293.2" y1="84.5" x2="296.2" y2="84.5" stroke="#222" stroke-width="0.8" />
<line x1="294.6" y1="69.5" x2="296.2" y2="69.5" stroke="#222" stroke-width="0.8" />
<line x1="293.2" y1="54.5" x2="296.2" y2="54.5" stroke="#222" stroke-width="0.8" />
<line x1="294.6" y1="39.5" x2="296.2" y2="39.5" stroke="#222" stroke-width="0.8" />
<line x1="293.2" y1="24.5" x2="296.2" y2="24.5" stroke="#222" stroke-width="0.8" />
<text x="290" y="147.5" text-anchor="end" font-size="8.8" fill="#000"  stroke="#000" stroke-width="0.22" stroke-opacity="0.6">0</text>
<text x="290" y="117.5" text-anchor="end" font-size="8.8" fill="#000"  stroke="#000" stroke-width="0.22" stroke-opacity="0.6">2</text>
<text x="290" y="87.5" text-anchor="end" font-size="8.8" fill="#000"  stroke="#000" stroke-width="0.22" stroke-opacity="0.6">4</text>
<text x="290" y="57.5" text-anchor="end" font-size="8.8" fill="#000"  stroke="#000" stroke-width="0.22" stroke-opacity="0.6">6</text>
<text x="290" y="27.5" text-anchor="end" font-size="8.8" fill="#000"  stroke="#000" stroke-width="0.22" stroke-opacity="0.6">8</text>
<line x1="299.6" y1="144.5" x2="299.6" y2="147.5" stroke="#222" stroke-width="0.7" />
<line x1="303.06" y1="144.5" x2="303.06" y2="146.3" stroke="#222" stroke-width="0.7" />
<line x1="306.52" y1="144.5" x2="306.52" y2="146.3" stroke="#222" stroke-width="0.7" />
<line x1="309.98" y1="144.5" x2="309.98" y2="146.3" stroke="#222" stroke-width="0.7" />
<line x1="313.44" y1="144.5" x2="313.44" y2="146.3" stroke="#222" stroke-width="0.7" />
<line x1="316.9" y1="144.5" x2="316.9" y2="146.3" stroke="#222" stroke-width="0.7" />
<line x1="320.36" y1="144.5" x2="320.36" y2="146.3" stroke="#222" stroke-width="0.7" />
<line x1="323.82" y1="144.5" x2="323.82" y2="146.3" stroke="#222" stroke-width="0.7" />
<line x1="327.28" y1="144.5" x2="327.28" y2="146.3" stroke="#222" stroke-width="0.7" />
<line x1="330.74" y1="144.5" x2="330.74" y2="146.3" stroke="#222" stroke-width="0.7" />
<line x1="334.2" y1="144.5" x2="334.2" y2="147.5" stroke="#222" stroke-width="0.7" />
<line x1="337.66" y1="144.5" x2="337.66" y2="146.3" stroke="#222" stroke-width="0.7" />
<line x1="341.12" y1="144.5" x2="341.12" y2="146.3" stroke="#222" stroke-width="0.7" />
<line x1="344.58" y1="144.5" x2="344.58" y2="146.3" stroke="#222" stroke-width="0.7" />
<line x1="348.04" y1="144.5" x2="348.04" y2="146.3" stroke="#222" stroke-width="0.7" />
<line x1="351.5" y1="144.5" x2="351.5" y2="146.3" stroke="#222" stroke-width="0.7" />
<line x1="354.96" y1="144.5" x2="354.96" y2="146.3" stroke="#222" stroke-width="0.7" />
<line x1="358.42" y1="144.5" x2="358.42" y2="146.3" stroke="#222" stroke-width="0.7" />
<line x1="361.88" y1="144.5" x2="361.88" y2="146.3" stroke="#222" stroke-width="0.7" />
<line x1="365.34" y1="144.5" x2="365.34" y2="146.3" stroke="#222" stroke-width="0.7" />
<line x1="368.8" y1="144.5" x2="368.8" y2="147.5" stroke="#222" stroke-width="0.7" />
<line x1="372.26" y1="144.5" x2="372.26" y2="146.3" stroke="#222" stroke-width="0.7" />
<line x1="375.72" y1="144.5" x2="375.72" y2="146.3" stroke="#222" stroke-width="0.7" />
<line x1="379.18" y1="144.5" x2="379.18" y2="146.3" stroke="#222" stroke-width="0.7" />
<line x1="382.64" y1="144.5" x2="382.64" y2="146.3" stroke="#222" stroke-width="0.7" />
<line x1="386.1" y1="144.5" x2="386.1" y2="146.3" stroke="#222" stroke-width="0.7" />
<line x1="389.56" y1="144.5" x2="389.56" y2="146.3" stroke="#222" stroke-width="0.7" />
<line x1="393.02" y1="144.5" x2="393.02" y2="146.3" stroke="#222" stroke-width="0.7" />
<line x1="396.48" y1="144.5" x2="396.48" y2="146.3" stroke="#222" stroke-width="0.7" />
<line x1="399.94" y1="144.5" x2="399.94" y2="146.3" stroke="#222" stroke-width="0.7" />
<line x1="403.4" y1="144.5" x2="403.4" y2="147.5" stroke="#222" stroke-width="0.7" />
<line x1="406.86" y1="144.5" x2="406.86" y2="146.3" stroke="#222" stroke-width="0.7" />
<line x1="410.32" y1="144.5" x2="410.32" y2="146.3" stroke="#222" stroke-width="0.7" />
<line x1="413.78" y1="144.5" x2="413.78" y2="146.3" stroke="#222" stroke-width="0.7" />
<line x1="417.24" y1="144.5" x2="417.24" y2="146.3" stroke="#222" stroke-width="0.7" />
<line x1="420.7" y1="144.5" x2="420.7" y2="146.3" stroke="#222" stroke-width="0.7" />
<line x1="424.16" y1="144.5" x2="424.16" y2="146.3" stroke="#222" stroke-width="0.7" />
<line x1="427.62" y1="144.5" x2="427.62" y2="146.3" stroke="#222" stroke-width="0.7" />
<line x1="431.08" y1="144.5" x2="431.08" y2="146.3" stroke="#222" stroke-width="0.7" />
<line x1="434.54" y1="144.5" x2="434.54" y2="146.3" stroke="#222" stroke-width="0.7" />
<line x1="438" y1="144.5" x2="438" y2="147.5" stroke="#222" stroke-width="0.7" />
<line x1="441.46" y1="144.5" x2="441.46" y2="146.3" stroke="#222" stroke-width="0.7" />
<line x1="444.92" y1="144.5" x2="444.92" y2="146.3" stroke="#222" stroke-width="0.7" />
<line x1="448.38" y1="144.5" x2="448.38" y2="146.3" stroke="#222" stroke-width="0.7" />
<line x1="451.84" y1="144.5" x2="451.84" y2="146.3" stroke="#222" stroke-width="0.7" />
<line x1="455.3" y1="144.5" x2="455.3" y2="146.3" stroke="#222" stroke-width="0.7" />
<line x1="296.2" y1="144.5" x2="456.6" y2="144.5" stroke="#222" stroke-width="1" />
<line x1="296.2" y1="10" x2="296.2" y2="144.5" stroke="#9a9a9a" stroke-width="1.6" />
<text x="299.6" y="160" text-anchor="middle" font-size="8.8" fill="#000"  stroke="#000" stroke-width="0.22" stroke-opacity="0.6">0</text>
<text x="334.2" y="160" text-anchor="middle" font-size="8.8" fill="#000" stroke="#000" stroke-width="0.22" stroke-opacity="0.6">1 × 10<tspan font-size="5.2" dy="-3.3">4</tspan></text>
<text x="368.8" y="160" text-anchor="middle" font-size="8.8" fill="#000" stroke="#000" stroke-width="0.22" stroke-opacity="0.6">2 × 10<tspan font-size="5.2" dy="-3.3">4</tspan></text>
<text x="403.4" y="160" text-anchor="middle" font-size="8.8" fill="#000" stroke="#000" stroke-width="0.22" stroke-opacity="0.6">3 × 10<tspan font-size="5.2" dy="-3.3">4</tspan></text>
<text x="438" y="160" text-anchor="middle" font-size="8.8" fill="#000" stroke="#000" stroke-width="0.22" stroke-opacity="0.6">4 × 10<tspan font-size="5.2" dy="-3.3">4</tspan></text>
<text transform="translate(273.6,77) rotate(-90)" text-anchor="middle" font-size="9.1" fill="#000" stroke="#000" stroke-width="0.22" stroke-opacity="0.6">EQE (%)</text>
<text x="376" y="173.5" text-anchor="middle" font-size="9.1" fill="#000" stroke="#000" stroke-width="0.22" stroke-opacity="0.6">Luminance (cd m<tspan font-size="6.2" dy="-3.6">-2</tspan><tspan dy="3.6">)</tspan></text>
<polyline points="299.1,110.2 299.1,79.2 299.6,63.2 300.3,42.2 301,37.3 302.5,31.9 305,30 309.6,28.9 315,29.6 322.7,33.8 339.1,42 355.5,47.4 370,51.8 385,55.8 400.8,59.4 414.7,63.1 428.2,65.9 440,69.2 444,71.4" fill="none" stroke="#ff1010" stroke-width="0.8" />
<polyline points="299.4,133 299.6,100.2 299.9,83.3 300.6,60 301.4,52 302,44.6 303,33 305,30.3 309.6,29.3 315,30.5 322.7,35.5 339.1,45.3 355.5,51.8 370,56.7 386,61.8 402.5,66.2 418.4,70 433.5,72.9 437.2,73.7" fill="none" stroke="#1010ff" stroke-width="0.8" />
<circle cx="299.1" cy="110.2" r="1.8" fill="#ff1010" stroke="none" stroke-width="0"/>
<circle cx="299.1" cy="79.2" r="1.8" fill="#ff1010" stroke="none" stroke-width="0"/>
<circle cx="299.6" cy="63.2" r="1.8" fill="#ff1010" stroke="none" stroke-width="0"/>
<circle cx="300.3" cy="42.2" r="1.8" fill="#ff1010" stroke="none" stroke-width="0"/>
<circle cx="301" cy="37.3" r="1.8" fill="#ff1010" stroke="none" stroke-width="0"/>
<circle cx="302.5" cy="31.9" r="1.8" fill="#ff1010" stroke="none" stroke-width="0"/>
<circle cx="305" cy="30" r="1.8" fill="#ff1010" stroke="none" stroke-width="0"/>
<circle cx="306.6" cy="29.62" r="1.8" fill="#ff1010" stroke="none" stroke-width="0"/>
<circle cx="308.22" cy="29.23" r="1.8" fill="#ff1010" stroke="none" stroke-width="0"/>
<circle cx="309.87" cy="28.93" r="1.8" fill="#ff1010" stroke="none" stroke-width="0"/>
<circle cx="311.54" cy="29.15" r="1.8" fill="#ff1010" stroke="none" stroke-width="0"/>
<circle cx="313.23" cy="29.37" r="1.8" fill="#ff1010" stroke="none" stroke-width="0"/>
<circle cx="314.94" cy="29.59" r="1.8" fill="#ff1010" stroke="none" stroke-width="0"/>
<circle cx="316.68" cy="30.52" r="1.8" fill="#ff1010" stroke="none" stroke-width="0"/>
<circle cx="318.45" cy="31.48" r="1.8" fill="#ff1010" stroke="none" stroke-width="0"/>
<circle cx="320.23" cy="32.45" r="1.8" fill="#ff1010" stroke="none" stroke-width="0"/>
<circle cx="322.05" cy="33.44" r="1.8" fill="#ff1010" stroke="none" stroke-width="0"/>
<circle cx="323.89" cy="34.39" r="1.8" fill="#ff1010" stroke="none" stroke-width="0"/>
<circle cx="325.75" cy="35.32" r="1.8" fill="#ff1010" stroke="none" stroke-width="0"/>
<circle cx="327.64" cy="36.27" r="1.8" fill="#ff1010" stroke="none" stroke-width="0"/>
<circle cx="329.56" cy="37.23" r="1.8" fill="#ff1010" stroke="none" stroke-width="0"/>
<circle cx="331.5" cy="38.2" r="1.8" fill="#ff1010" stroke="none" stroke-width="0"/>
<circle cx="333.47" cy="39.19" r="1.8" fill="#ff1010" stroke="none" stroke-width="0"/>
<circle cx="335.47" cy="40.19" r="1.8" fill="#ff1010" stroke="none" stroke-width="0"/>
<circle cx="337.5" cy="41.2" r="1.8" fill="#ff1010" stroke="none" stroke-width="0"/>
<circle cx="339.55" cy="42.15" r="1.8" fill="#ff1010" stroke="none" stroke-width="0"/>
<circle cx="341.64" cy="42.83" r="1.8" fill="#ff1010" stroke="none" stroke-width="0"/>
<circle cx="343.75" cy="43.53" r="1.8" fill="#ff1010" stroke="none" stroke-width="0"/>
<circle cx="345.89" cy="44.24" r="1.8" fill="#ff1010" stroke="none" stroke-width="0"/>
<circle cx="348.06" cy="44.95" r="1.8" fill="#ff1010" stroke="none" stroke-width="0"/>
<circle cx="350.27" cy="45.68" r="1.8" fill="#ff1010" stroke="none" stroke-width="0"/>
<circle cx="352.5" cy="46.41" r="1.8" fill="#ff1010" stroke="none" stroke-width="0"/>
<circle cx="354.77" cy="47.16" r="1.8" fill="#ff1010" stroke="none" stroke-width="0"/>
<circle cx="357.06" cy="47.87" r="1.8" fill="#ff1010" stroke="none" stroke-width="0"/>
<circle cx="359.39" cy="48.58" r="1.8" fill="#ff1010" stroke="none" stroke-width="0"/>
<circle cx="361.75" cy="49.3" r="1.8" fill="#ff1010" stroke="none" stroke-width="0"/>
<circle cx="364.15" cy="50.02" r="1.8" fill="#ff1010" stroke="none" stroke-width="0"/>
<circle cx="366.57" cy="50.76" r="1.8" fill="#ff1010" stroke="none" stroke-width="0"/>
<circle cx="369.04" cy="51.51" r="1.8" fill="#ff1010" stroke="none" stroke-width="0"/>
<circle cx="371.53" cy="52.21" r="1.8" fill="#ff1010" stroke="none" stroke-width="0"/>
<circle cx="374.06" cy="52.88" r="1.8" fill="#ff1010" stroke="none" stroke-width="0"/>
<circle cx="376.63" cy="53.57" r="1.8" fill="#ff1010" stroke="none" stroke-width="0"/>
<circle cx="379.23" cy="54.26" r="1.8" fill="#ff1010" stroke="none" stroke-width="0"/>
<circle cx="381.87" cy="54.97" r="1.8" fill="#ff1010" stroke="none" stroke-width="0"/>
<circle cx="384.55" cy="55.68" r="1.8" fill="#ff1010" stroke="none" stroke-width="0"/>
<circle cx="387.26" cy="56.32" r="1.8" fill="#ff1010" stroke="none" stroke-width="0"/>
<circle cx="390.02" cy="56.94" r="1.8" fill="#ff1010" stroke="none" stroke-width="0"/>
<circle cx="392.81" cy="57.58" r="1.8" fill="#ff1010" stroke="none" stroke-width="0"/>
<circle cx="395.64" cy="58.22" r="1.8" fill="#ff1010" stroke="none" stroke-width="0"/>
<circle cx="398.5" cy="58.88" r="1.8" fill="#ff1010" stroke="none" stroke-width="0"/>
<circle cx="401.41" cy="59.56" r="1.8" fill="#ff1010" stroke="none" stroke-width="0"/>
<circle cx="404.36" cy="60.35" r="1.8" fill="#ff1010" stroke="none" stroke-width="0"/>
<circle cx="407.35" cy="61.14" r="1.8" fill="#ff1010" stroke="none" stroke-width="0"/>
<circle cx="410.39" cy="61.95" r="1.8" fill="#ff1010" stroke="none" stroke-width="0"/>
<circle cx="413.46" cy="62.77" r="1.8" fill="#ff1010" stroke="none" stroke-width="0"/>
<circle cx="416.58" cy="63.49" r="1.8" fill="#ff1010" stroke="none" stroke-width="0"/>
<circle cx="419.74" cy="64.15" r="1.8" fill="#ff1010" stroke="none" stroke-width="0"/>
<circle cx="422.95" cy="64.81" r="1.8" fill="#ff1010" stroke="none" stroke-width="0"/>
<circle cx="426.2" cy="65.49" r="1.8" fill="#ff1010" stroke="none" stroke-width="0"/>
<circle cx="429.5" cy="66.26" r="1.8" fill="#ff1010" stroke="none" stroke-width="0"/>
<circle cx="432.84" cy="67.2" r="1.8" fill="#ff1010" stroke="none" stroke-width="0"/>
<circle cx="436.23" cy="68.15" r="1.8" fill="#ff1010" stroke="none" stroke-width="0"/>
<circle cx="439.67" cy="69.11" r="1.8" fill="#ff1010" stroke="none" stroke-width="0"/>
<circle cx="443.15" cy="70.93" r="1.8" fill="#ff1010" stroke="none" stroke-width="0"/>
<rect x="297.7" y="131.3" width="3.4" height="3.4" fill="#1010ff" stroke="none" stroke-width="0" />
<rect x="297.9" y="98.5" width="3.4" height="3.4" fill="#1010ff" stroke="none" stroke-width="0" />
<rect x="298.2" y="81.6" width="3.4" height="3.4" fill="#1010ff" stroke="none" stroke-width="0" />
<rect x="298.9" y="58.3" width="3.4" height="3.4" fill="#1010ff" stroke="none" stroke-width="0" />
<rect x="299.7" y="50.3" width="3.4" height="3.4" fill="#1010ff" stroke="none" stroke-width="0" />
<rect x="300.3" y="42.9" width="3.4" height="3.4" fill="#1010ff" stroke="none" stroke-width="0" />
<rect x="301.3" y="31.3" width="3.4" height="3.4" fill="#1010ff" stroke="none" stroke-width="0" />
<rect x="302.9" y="29.14" width="3.4" height="3.4" fill="#1010ff" stroke="none" stroke-width="0" />
<rect x="304.53" y="28.33" width="3.4" height="3.4" fill="#1010ff" stroke="none" stroke-width="0" />
<rect x="306.18" y="27.97" width="3.4" height="3.4" fill="#1010ff" stroke="none" stroke-width="0" />
<rect x="307.86" y="27.61" width="3.4" height="3.4" fill="#1010ff" stroke="none" stroke-width="0" />
<rect x="309.56" y="27.97" width="3.4" height="3.4" fill="#1010ff" stroke="none" stroke-width="0" />
<rect x="311.29" y="28.35" width="3.4" height="3.4" fill="#1010ff" stroke="none" stroke-width="0" />
<rect x="313.05" y="28.74" width="3.4" height="3.4" fill="#1010ff" stroke="none" stroke-width="0" />
<rect x="314.84" y="29.8" width="3.4" height="3.4" fill="#1010ff" stroke="none" stroke-width="0" />
<rect x="316.66" y="30.98" width="3.4" height="3.4" fill="#1010ff" stroke="none" stroke-width="0" />
<rect x="318.5" y="32.18" width="3.4" height="3.4" fill="#1010ff" stroke="none" stroke-width="0" />
<rect x="320.38" y="33.4" width="3.4" height="3.4" fill="#1010ff" stroke="none" stroke-width="0" />
<rect x="322.28" y="34.57" width="3.4" height="3.4" fill="#1010ff" stroke="none" stroke-width="0" />
<rect x="324.22" y="35.72" width="3.4" height="3.4" fill="#1010ff" stroke="none" stroke-width="0" />
<rect x="326.19" y="36.9" width="3.4" height="3.4" fill="#1010ff" stroke="none" stroke-width="0" />
<rect x="328.18" y="38.09" width="3.4" height="3.4" fill="#1010ff" stroke="none" stroke-width="0" />
<rect x="330.21" y="39.31" width="3.4" height="3.4" fill="#1010ff" stroke="none" stroke-width="0" />
<rect x="332.28" y="40.54" width="3.4" height="3.4" fill="#1010ff" stroke="none" stroke-width="0" />
<rect x="334.37" y="41.79" width="3.4" height="3.4" fill="#1010ff" stroke="none" stroke-width="0" />
<rect x="336.5" y="43.06" width="3.4" height="3.4" fill="#1010ff" stroke="none" stroke-width="0" />
<rect x="338.66" y="44.1" width="3.4" height="3.4" fill="#1010ff" stroke="none" stroke-width="0" />
<rect x="340.86" y="44.97" width="3.4" height="3.4" fill="#1010ff" stroke="none" stroke-width="0" />
<rect x="343.1" y="45.86" width="3.4" height="3.4" fill="#1010ff" stroke="none" stroke-width="0" />
<rect x="345.36" y="46.76" width="3.4" height="3.4" fill="#1010ff" stroke="none" stroke-width="0" />
<rect x="347.67" y="47.67" width="3.4" height="3.4" fill="#1010ff" stroke="none" stroke-width="0" />
<rect x="350.01" y="48.6" width="3.4" height="3.4" fill="#1010ff" stroke="none" stroke-width="0" />
<rect x="352.39" y="49.54" width="3.4" height="3.4" fill="#1010ff" stroke="none" stroke-width="0" />
<rect x="354.81" y="50.44" width="3.4" height="3.4" fill="#1010ff" stroke="none" stroke-width="0" />
<rect x="357.26" y="51.27" width="3.4" height="3.4" fill="#1010ff" stroke="none" stroke-width="0" />
<rect x="359.76" y="52.11" width="3.4" height="3.4" fill="#1010ff" stroke="none" stroke-width="0" />
<rect x="362.29" y="52.97" width="3.4" height="3.4" fill="#1010ff" stroke="none" stroke-width="0" />
<rect x="364.87" y="53.84" width="3.4" height="3.4" fill="#1010ff" stroke="none" stroke-width="0" />
<rect x="367.49" y="54.73" width="3.4" height="3.4" fill="#1010ff" stroke="none" stroke-width="0" />
<rect x="370.15" y="55.59" width="3.4" height="3.4" fill="#1010ff" stroke="none" stroke-width="0" />
<rect x="372.85" y="56.45" width="3.4" height="3.4" fill="#1010ff" stroke="none" stroke-width="0" />
<rect x="375.59" y="57.32" width="3.4" height="3.4" fill="#1010ff" stroke="none" stroke-width="0" />
<rect x="378.38" y="58.21" width="3.4" height="3.4" fill="#1010ff" stroke="none" stroke-width="0" />
<rect x="381.21" y="59.12" width="3.4" height="3.4" fill="#1010ff" stroke="none" stroke-width="0" />
<rect x="384.09" y="60.03" width="3.4" height="3.4" fill="#1010ff" stroke="none" stroke-width="0" />
<rect x="387.02" y="60.82" width="3.4" height="3.4" fill="#1010ff" stroke="none" stroke-width="0" />
<rect x="389.99" y="61.62" width="3.4" height="3.4" fill="#1010ff" stroke="none" stroke-width="0" />
<rect x="393.01" y="62.42" width="3.4" height="3.4" fill="#1010ff" stroke="none" stroke-width="0" />
<rect x="396.08" y="63.24" width="3.4" height="3.4" fill="#1010ff" stroke="none" stroke-width="0" />
<rect x="399.19" y="64.07" width="3.4" height="3.4" fill="#1010ff" stroke="none" stroke-width="0" />
<rect x="402.36" y="64.87" width="3.4" height="3.4" fill="#1010ff" stroke="none" stroke-width="0" />
<rect x="405.58" y="65.64" width="3.4" height="3.4" fill="#1010ff" stroke="none" stroke-width="0" />
<rect x="408.84" y="66.42" width="3.4" height="3.4" fill="#1010ff" stroke="none" stroke-width="0" />
<rect x="412.16" y="67.22" width="3.4" height="3.4" fill="#1010ff" stroke="none" stroke-width="0" />
<rect x="415.54" y="68.02" width="3.4" height="3.4" fill="#1010ff" stroke="none" stroke-width="0" />
<rect x="418.97" y="68.74" width="3.4" height="3.4" fill="#1010ff" stroke="none" stroke-width="0" />
<rect x="422.45" y="69.4" width="3.4" height="3.4" fill="#1010ff" stroke="none" stroke-width="0" />
<rect x="425.99" y="70.08" width="3.4" height="3.4" fill="#1010ff" stroke="none" stroke-width="0" />
<rect x="429.58" y="70.77" width="3.4" height="3.4" fill="#1010ff" stroke="none" stroke-width="0" />
<rect x="433.24" y="71.51" width="3.4" height="3.4" fill="#1010ff" stroke="none" stroke-width="0" />
<rect x="435.5" y="72" width="3.4" height="3.4" fill="#1010ff" stroke="none" stroke-width="0" />
<line x1="391" y1="17.9" x2="411.2" y2="17.9" stroke="#ff9c9c" stroke-width="2" />
<circle cx="401.1" cy="17.9" r="1.8" fill="#ff1010" stroke="none" stroke-width="0"/>
<text x="416.7" y="21.1" text-anchor="start" font-size="8.45" fill="#000"  stroke="#000" stroke-width="0.22" stroke-opacity="0.6">Pristine</text>
<line x1="391" y1="29.4" x2="411.2" y2="29.4" stroke="#3a3aff" stroke-width="1.1" />
<rect x="399.4" y="27.7" width="3.4" height="3.4" fill="#1010ff" stroke="none" stroke-width="0" />
<text x="416.7" y="32.5" text-anchor="start" font-size="8.45" fill="#000"  stroke="#000" stroke-width="0.22" stroke-opacity="0.6">Patterned</text>
<text x="491" y="11.2" text-anchor="start" font-size="15" fill="#000" font-weight="bold">c</text>
<path d="M526.3,24.8 L641,24.8 C642.5,25.17 647.5,25.47 650,27 C652.5,28.53 654.13,30.5 656,34 C657.87,37.5 659.1,40.67 661.2,48 C663.3,55.33 666.52,69.33 668.6,78 C670.68,86.67 672.47,93.67 673.7,100 C674.93,106.33 675.62,113.33 676,116 L664.8,116 C664.42,113.33 663.55,106 662.5,100 C661.45,94 660.32,86.17 658.5,80 C656.68,73.83 654.43,67.67 651.6,63 C648.77,58.33 643.18,53.83 641.5,52 L526.3,52 Z" fill="#c9c9f9"/>
<line x1="523.9" y1="9.9" x2="684" y2="9.9" stroke="#8a8a8a" stroke-width="1" />
<line x1="684" y1="9.9" x2="684" y2="144.5" stroke="#8a8a8a" stroke-width="1" />
<line x1="520.9" y1="144.6" x2="523.9" y2="144.6" stroke="#222" stroke-width="0.8" />
<line x1="684" y1="144.6" x2="684" y2="144.6" stroke="#222" stroke-width="0.8" />
<line x1="522.3" y1="110.92" x2="523.9" y2="110.92" stroke="#222" stroke-width="0.8" />
<line x1="684" y1="110.92" x2="685.6" y2="110.92" stroke="#222" stroke-width="0.8" />
<line x1="520.9" y1="77.25" x2="523.9" y2="77.25" stroke="#222" stroke-width="0.8" />
<line x1="684" y1="77.25" x2="684" y2="77.25" stroke="#222" stroke-width="0.8" />
<line x1="522.3" y1="43.57" x2="523.9" y2="43.57" stroke="#222" stroke-width="0.8" />
<line x1="684" y1="43.57" x2="685.6" y2="43.57" stroke="#222" stroke-width="0.8" />
<line x1="520.9" y1="9.9" x2="523.9" y2="9.9" stroke="#222" stroke-width="0.8" />
<line x1="684" y1="9.9" x2="684" y2="9.9" stroke="#222" stroke-width="0.8" />
<text x="517.5" y="147.6" text-anchor="end" font-size="8.8" fill="#000"  stroke="#000" stroke-width="0.22" stroke-opacity="0.6">0</text>
<text x="517.5" y="80.25" text-anchor="end" font-size="8.8" fill="#000"  stroke="#000" stroke-width="0.22" stroke-opacity="0.6">5</text>
<text x="517.5" y="12.9" text-anchor="end" font-size="8.8" fill="#000"  stroke="#000" stroke-width="0.22" stroke-opacity="0.6">10</text>
<line x1="523.9" y1="9.9" x2="523.9" y2="144.5" stroke="#9a9a9a" stroke-width="1.5" />
<line x1="523.9" y1="144.5" x2="684" y2="144.5" stroke="#333" stroke-width="1" />
<rect x="523.5" y="144" width="23.3" height="2" fill="#111" stroke="none" stroke-width="0" />
<line x1="524.5" y1="145" x2="524.5" y2="147" stroke="#222" stroke-width="0.7" />
<line x1="526.7" y1="145" x2="526.7" y2="147" stroke="#222" stroke-width="0.7" />
<line x1="528.9" y1="145" x2="528.9" y2="147" stroke="#222" stroke-width="0.7" />
<line x1="531.1" y1="145" x2="531.1" y2="147" stroke="#222" stroke-width="0.7" />
<line x1="533.3" y1="145" x2="533.3" y2="147" stroke="#222" stroke-width="0.7" />
<line x1="535.5" y1="145" x2="535.5" y2="147" stroke="#222" stroke-width="0.7" />
<line x1="537.7" y1="145" x2="537.7" y2="147" stroke="#222" stroke-width="0.7" />
<line x1="539.9" y1="145" x2="539.9" y2="147" stroke="#222" stroke-width="0.7" />
<line x1="542.1" y1="145" x2="542.1" y2="147" stroke="#222" stroke-width="0.7" />
<line x1="544.3" y1="145" x2="544.3" y2="147" stroke="#222" stroke-width="0.7" />
<line x1="546.5" y1="145" x2="546.5" y2="147" stroke="#222" stroke-width="0.7" />
<rect x="546.6" y="140" width="5.5" height="8" fill="#fff"/>
<line x1="546.6" y1="147" x2="549.6" y2="141.8" stroke="#333" stroke-width="0.9" />
<line x1="549.2" y1="147" x2="552.2" y2="141.8" stroke="#333" stroke-width="0.9" />
<rect x="546" y="6" width="6.5" height="8" fill="#fff"/>
<line x1="546.2" y1="12.8" x2="549.2" y2="7.2" stroke="#333" stroke-width="0.9" />
<line x1="549" y1="12.8" x2="552" y2="7.2" stroke="#333" stroke-width="0.9" />
<line x1="585.7" y1="144.5" x2="585.7" y2="147.5" stroke="#333" stroke-width="0.7" />
<line x1="571.01" y1="144.5" x2="571.01" y2="146" stroke="#333" stroke-width="0.7" />
<line x1="562.42" y1="144.5" x2="562.42" y2="146" stroke="#333" stroke-width="0.7" />
<line x1="556.32" y1="144.5" x2="556.32" y2="146" stroke="#333" stroke-width="0.7" />
<line x1="634.5" y1="144.5" x2="634.5" y2="147.5" stroke="#333" stroke-width="0.7" />
<line x1="619.81" y1="144.5" x2="619.81" y2="146" stroke="#333" stroke-width="0.7" />
<line x1="611.22" y1="144.5" x2="611.22" y2="146" stroke="#333" stroke-width="0.7" />
<line x1="605.12" y1="144.5" x2="605.12" y2="146" stroke="#333" stroke-width="0.7" />
<line x1="600.39" y1="144.5" x2="600.39" y2="146" stroke="#333" stroke-width="0.7" />
<line x1="596.53" y1="144.5" x2="596.53" y2="146" stroke="#333" stroke-width="0.7" />
<line x1="593.26" y1="144.5" x2="593.26" y2="146" stroke="#333" stroke-width="0.7" />
<line x1="590.43" y1="144.5" x2="590.43" y2="146" stroke="#333" stroke-width="0.7" />
<line x1="587.93" y1="144.5" x2="587.93" y2="146" stroke="#333" stroke-width="0.7" />
<line x1="683.3" y1="144.5" x2="683.3" y2="147.5" stroke="#333" stroke-width="0.7" />
<line x1="668.61" y1="144.5" x2="668.61" y2="146" stroke="#333" stroke-width="0.7" />
<line x1="660.02" y1="144.5" x2="660.02" y2="146" stroke="#333" stroke-width="0.7" />
<line x1="653.92" y1="144.5" x2="653.92" y2="146" stroke="#333" stroke-width="0.7" />
<line x1="649.19" y1="144.5" x2="649.19" y2="146" stroke="#333" stroke-width="0.7" />
<line x1="645.33" y1="144.5" x2="645.33" y2="146" stroke="#333" stroke-width="0.7" />
<line x1="642.06" y1="144.5" x2="642.06" y2="146" stroke="#333" stroke-width="0.7" />
<line x1="639.23" y1="144.5" x2="639.23" y2="146" stroke="#333" stroke-width="0.7" />
<line x1="636.73" y1="144.5" x2="636.73" y2="146" stroke="#333" stroke-width="0.7" />
<text x="619.81" y="160" text-anchor="middle" font-size="8.8" fill="#000"  stroke="#000" stroke-width="0.22" stroke-opacity="0.6">20</text>
<text x="634.5" y="160" text-anchor="middle" font-size="8.8" fill="#000"  stroke="#000" stroke-width="0.22" stroke-opacity="0.6">10</text>
<text x="668.61" y="160" text-anchor="middle" font-size="8.8" fill="#000"  stroke="#000" stroke-width="0.22" stroke-opacity="0.6">2</text>
<text x="683.3" y="160" text-anchor="middle" font-size="8.8" fill="#000"  stroke="#000" stroke-width="0.22" stroke-opacity="0.6">1</text>
<text x="523.9" y="159.8" text-anchor="start" font-size="8.7" fill="#000"  stroke="#000" stroke-width="0.22" stroke-opacity="0.6">Pristine</text>
<text x="598.8" y="129.1" text-anchor="middle" font-size="9.1" fill="#000"  stroke="#000" stroke-width="0.22" stroke-opacity="0.6">Blue micro-QLED</text>
<text x="603.9" y="174" text-anchor="middle" font-size="9.1" fill="#000"  stroke="#000" stroke-width="0.22" stroke-opacity="0.6">Pixel size (μm)</text>
<text transform="translate(499.2,76.5) rotate(-90)" text-anchor="middle" font-size="9.1" fill="#000" stroke="#000" stroke-width="0.22" stroke-opacity="0.6">Peak EQE (%)</text>
<line x1="532.7" y1="27.4" x2="532.7" y2="42.4" stroke="#333" stroke-width="0.8" />
<line x1="531.2" y1="27.4" x2="534.2" y2="27.4" stroke="#333" stroke-width="0.8" />
<line x1="531.2" y1="42.4" x2="534.2" y2="42.4" stroke="#333" stroke-width="0.8" />
<circle cx="532.7" cy="34.8" r="2.3" fill="#0000ee" stroke="none" stroke-width="0"/>
<line x1="619.5" y1="33" x2="619.5" y2="51" stroke="#333" stroke-width="0.8" />
<line x1="618" y1="33" x2="621" y2="33" stroke="#333" stroke-width="0.8" />
<line x1="618" y1="51" x2="621" y2="51" stroke="#333" stroke-width="0.8" />
<circle cx="619.5" cy="42.2" r="2.3" fill="#0000ee" stroke="none" stroke-width="0"/>
<line x1="630.5" y1="37.5" x2="630.5" y2="49" stroke="#333" stroke-width="0.8" />
<line x1="629" y1="37.5" x2="632" y2="37.5" stroke="#333" stroke-width="0.8" />
<line x1="629" y1="49" x2="632" y2="49" stroke="#333" stroke-width="0.8" />
<circle cx="630.5" cy="43.6" r="2.3" fill="#0000ee" stroke="none" stroke-width="0"/>
<line x1="639.4" y1="37.6" x2="639.4" y2="41.8" stroke="#333" stroke-width="0.8" />
<line x1="637.9" y1="37.6" x2="640.9" y2="37.6" stroke="#333" stroke-width="0.8" />
<line x1="637.9" y1="41.8" x2="640.9" y2="41.8" stroke="#333" stroke-width="0.8" />
<circle cx="639.4" cy="39.7" r="2.3" fill="#0000ee" stroke="none" stroke-width="0"/>
<line x1="654.3" y1="55" x2="654.3" y2="74" stroke="#333" stroke-width="0.8" />
<line x1="652.8" y1="55" x2="655.8" y2="55" stroke="#333" stroke-width="0.8" />
<line x1="652.8" y1="74" x2="655.8" y2="74" stroke="#333" stroke-width="0.8" />
<circle cx="654.3" cy="64.5" r="2.3" fill="#0000ee" stroke="none" stroke-width="0"/>
<line x1="669.3" y1="91.9" x2="669.3" y2="115.4" stroke="#333" stroke-width="0.8" />
<line x1="667.8" y1="91.9" x2="670.8" y2="91.9" stroke="#333" stroke-width="0.8" />
<line x1="667.8" y1="115.4" x2="670.8" y2="115.4" stroke="#333" stroke-width="0.8" />
<circle cx="669.3" cy="103.4" r="2.3" fill="#0000ee" stroke="none" stroke-width="0"/>
<text x="-0.4" y="200.4" text-anchor="start" font-size="15" fill="#000" font-weight="bold">d</text>
<rect x="55" y="197.5" width="28.8" height="133.2" fill="#d4e8ee" stroke="none" stroke-width="0" />
<path d="M48.2,199.8 C48.67,199.9 49.93,199.8 51,200.4 C52.07,201 53.52,202.38 54.6,203.4 C55.68,204.42 56.6,205.48 57.5,206.5 C58.4,207.52 59.25,208.5 60,209.5 C60.75,210.5 61.45,211.5 62,212.5 C62.55,213.5 62.87,214.52 63.3,215.5 C63.73,216.48 64.12,217.45 64.6,218.4 C65.08,219.35 65.58,220.3 66.2,221.2 C66.82,222.1 67.58,223.03 68.3,223.8 C69.02,224.57 69.73,225.22 70.5,225.8 C71.27,226.38 72.07,226.8 72.9,227.3 C73.73,227.8 74.55,228.35 75.5,228.8 C76.45,229.25 77.13,229.53 78.6,230 C80.07,230.47 82.4,231.22 84.3,231.6 C86.2,231.98 85.72,232.12 90,232.3 C94.28,232.48 101.67,232.6 110,232.7 C118.33,232.8 132,232.92 140,232.9 C148,232.88 153.83,232.75 158,232.6 C162.17,232.45 162.75,232.38 165,232 C167.25,231.62 169.68,230.85 171.5,230.3 C173.32,229.75 174.65,229.28 175.9,228.7 C177.15,228.12 178.1,227.53 179,226.8 C179.9,226.07 180.55,225.8 181.3,224.3 C182.05,222.8 182.77,219.97 183.5,217.8 C184.23,215.63 184.88,213.03 185.7,211.3 C186.52,209.57 187.32,208.32 188.4,207.4 C189.48,206.48 191.1,206.43 192.2,205.8 C193.3,205.17 194.18,204.15 195,203.6 C195.82,203.05 195.93,202.77 197.1,202.5 C198.27,202.23 200.45,202.27 202,202 C203.55,201.73 205.23,200.98 206.4,200.9 C207.57,200.82 208.57,201.4 209,201.5" fill="none" stroke="#ee3b3b" stroke-width="0.8"/>
<path d="M48.2,244.6 C48.5,244.73 49.37,245.13 50,245.4 C50.63,245.67 51.33,246.23 52,246.2 C52.67,246.17 53.42,245.53 54,245.2 C54.58,244.87 55,244.17 55.5,244.2 C56,244.23 56.5,244.88 57,245.4 C57.5,245.92 58,246.73 58.5,247.3 C59,247.87 59.47,248.38 60,248.8 C60.53,249.22 61.23,249.18 61.7,249.8 C62.17,250.42 62.47,251.42 62.8,252.5 C63.13,253.58 63.43,254.8 63.7,256.3 C63.97,257.8 64.17,259.68 64.4,261.5 C64.63,263.32 64.87,265.53 65.1,267.2 C65.33,268.87 65.48,270.27 65.8,271.5 C66.12,272.73 66.33,273.73 67,274.6 C67.67,275.47 68.3,276.13 69.8,276.7 C71.3,277.27 72.7,277.67 76,278 C79.3,278.33 82.27,278.53 89.6,278.7 C96.93,278.87 108.27,278.95 120,279 C131.73,279.05 151.67,279.1 160,279 C168.33,278.9 167.05,278.63 170,278.4 C172.95,278.17 176.05,278.08 177.7,277.6 C179.35,277.12 179.25,276.77 179.9,275.5 C180.55,274.23 181.02,272 181.6,270 C182.18,268 182.63,266.23 183.4,263.5 C184.17,260.77 185.5,255.85 186.2,253.6 C186.9,251.35 186.88,250.72 187.6,250 C188.32,249.28 189.78,249.77 190.5,249.3 C191.22,248.83 191.32,248.25 191.9,247.2 C192.48,246.15 193.3,243.47 194,243 C194.7,242.53 195.03,244.05 196.1,244.4 C197.17,244.75 199.22,245.1 200.4,245.1 C201.58,245.1 202.15,244.52 203.2,244.4 C204.25,244.28 205.73,244.47 206.7,244.4 C207.67,244.33 208.62,244.07 209,244" fill="none" stroke="#f0962a" stroke-width="0.8"/>
<polyline points="48.2,289 53,288.9 58,288.7 60.1,288.8 61.2,289.4 61.8,290.6 66.3,323.2 67.5,324.3 90,324.4 120,324.2 135,324 150,324.4 176.8,325 188.3,291.1 190.5,290.4 192.5,292.5 194,293.9 195.4,291.8 198.2,287.5 201.1,288.9 204.6,288.9 207.4,288.5 209,289" fill="none" stroke="#222" stroke-width="0.8" stroke-linejoin="round"/>
<rect x="63" y="233.4" width="113.8" height="4.4" fill="#4a94d0" stroke="none" stroke-width="0" />
<path d="M56,203.1 L61.5,202.8 L67,237.5 L60.8,238.5 Z" fill="#0a62b4"/>
<rect x="63" y="279.4" width="113.8" height="4.7" fill="#4a94d0" stroke="none" stroke-width="0" />
<path d="M56,249 L61.5,248.7 L67,282.6 L60.8,283.6 Z" fill="#0a62b4"/>
<rect x="63" y="325.4" width="113.8" height="4.6" fill="#4a94d0" stroke="none" stroke-width="0" />
<path d="M56,293.8 L61.5,293.5 L67,327.6 L60.8,328.6 Z" fill="#0a62b4"/>
<ellipse cx="70.2" cy="224.3" rx="12.3" ry="8.6" fill="none" stroke="#111" stroke-width="1.2" stroke-dasharray="2.6,1.6"/>
<ellipse cx="71.2" cy="274.6" rx="10.9" ry="6.3" fill="none" stroke="#111" stroke-width="1.2" stroke-dasharray="2.6,1.6"/>
<ellipse cx="72" cy="319.7" rx="11.1" ry="6.3" fill="none" stroke="#111" stroke-width="1.2" stroke-dasharray="2.6,1.6"/>
<line x1="48.2" y1="197.2" x2="209" y2="197.2" stroke="#666" stroke-width="1" />
<line x1="48.2" y1="242.5" x2="209" y2="242.5" stroke="#666" stroke-width="1" />
<line x1="48.2" y1="288.5" x2="209" y2="288.5" stroke="#666" stroke-width="1" />
<line x1="48.2" y1="333.5" x2="209" y2="333.5" stroke="#333" stroke-width="1" />
<line x1="209" y1="197.2" x2="209" y2="333.5" stroke="#555" stroke-width="1" />
<line x1="48.2" y1="197.2" x2="48.2" y2="333.5" stroke="#333" stroke-width="1" />
<line x1="45.2" y1="199.8" x2="48.2" y2="199.8" stroke="#222" stroke-width="0.8" />
<line x1="46.6" y1="209" x2="48.2" y2="209" stroke="#222" stroke-width="0.8" />
<line x1="45.2" y1="218.2" x2="48.2" y2="218.2" stroke="#222" stroke-width="0.8" />
<line x1="46.6" y1="227.4" x2="48.2" y2="227.4" stroke="#222" stroke-width="0.8" />
<line x1="45.2" y1="236.6" x2="48.2" y2="236.6" stroke="#222" stroke-width="0.8" />
<line x1="45.2" y1="244.3" x2="48.2" y2="244.3" stroke="#222" stroke-width="0.8" />
<line x1="46.6" y1="253" x2="48.2" y2="253" stroke="#222" stroke-width="0.8" />
<line x1="45.2" y1="261.7" x2="48.2" y2="261.7" stroke="#222" stroke-width="0.8" />
<line x1="46.6" y1="270.4" x2="48.2" y2="270.4" stroke="#222" stroke-width="0.8" />
<line x1="45.2" y1="279.1" x2="48.2" y2="279.1" stroke="#222" stroke-width="0.8" />
<line x1="45.2" y1="289.3" x2="48.2" y2="289.3" stroke="#222" stroke-width="0.8" />
<line x1="46.6" y1="296.65" x2="48.2" y2="296.65" stroke="#222" stroke-width="0.8" />
<line x1="45.2" y1="304" x2="48.2" y2="304" stroke="#222" stroke-width="0.8" />
<line x1="46.6" y1="311.35" x2="48.2" y2="311.35" stroke="#222" stroke-width="0.8" />
<line x1="45.2" y1="318.7" x2="48.2" y2="318.7" stroke="#222" stroke-width="0.8" />
<line x1="46.6" y1="326.05" x2="48.2" y2="326.05" stroke="#222" stroke-width="0.8" />
<line x1="45.2" y1="333.4" x2="48.2" y2="333.4" stroke="#222" stroke-width="0.8" />
<text x="41.5" y="201.9" text-anchor="end" font-size="8.8" fill="#000"  stroke="#000" stroke-width="0.22" stroke-opacity="0.6">0</text>
<text x="41.5" y="221.2" text-anchor="end" font-size="8.8" fill="#000"  stroke="#000" stroke-width="0.22" stroke-opacity="0.6">-100</text>
<text x="41.5" y="239.6" text-anchor="end" font-size="8.8" fill="#000"  stroke="#000" stroke-width="0.22" stroke-opacity="0.6">-200</text>
<text x="41.5" y="264.7" text-anchor="end" font-size="8.8" fill="#000"  stroke="#000" stroke-width="0.22" stroke-opacity="0.6">-100</text>
<text x="41.5" y="282.1" text-anchor="end" font-size="8.8" fill="#000"  stroke="#000" stroke-width="0.22" stroke-opacity="0.6">-200</text>
<text x="41.5" y="247.8" text-anchor="end" font-size="8.8" fill="#000"  stroke="#000" stroke-width="0.22" stroke-opacity="0.6">0</text>
<text x="41.5" y="307" text-anchor="end" font-size="8.8" fill="#000"  stroke="#000" stroke-width="0.22" stroke-opacity="0.6">-100</text>
<text x="41.5" y="321.7" text-anchor="end" font-size="8.8" fill="#000"  stroke="#000" stroke-width="0.22" stroke-opacity="0.6">-200</text>
<text x="41.5" y="336.4" text-anchor="end" font-size="8.8" fill="#000"  stroke="#000" stroke-width="0.22" stroke-opacity="0.6">-300</text>
<text x="41.5" y="292.3" text-anchor="end" font-size="8.8" fill="#000"  stroke="#000" stroke-width="0.22" stroke-opacity="0.6">0</text>
<line x1="51.2" y1="333.5" x2="51.2" y2="335.1" stroke="#222" stroke-width="0.7" />
<line x1="65.5" y1="333.5" x2="65.5" y2="336.5" stroke="#222" stroke-width="0.7" />
<line x1="65.5" y1="242.5" x2="65.5" y2="240" stroke="#222" stroke-width="0.7" />
<line x1="65.5" y1="288.5" x2="65.5" y2="286" stroke="#222" stroke-width="0.7" />
<line x1="79.8" y1="333.5" x2="79.8" y2="335.1" stroke="#222" stroke-width="0.7" />
<line x1="94.1" y1="333.5" x2="94.1" y2="336.5" stroke="#222" stroke-width="0.7" />
<line x1="94.1" y1="242.5" x2="94.1" y2="240" stroke="#222" stroke-width="0.7" />
<line x1="94.1" y1="288.5" x2="94.1" y2="286" stroke="#222" stroke-width="0.7" />
<line x1="108.4" y1="333.5" x2="108.4" y2="335.1" stroke="#222" stroke-width="0.7" />
<line x1="122.7" y1="333.5" x2="122.7" y2="336.5" stroke="#222" stroke-width="0.7" />
<line x1="122.7" y1="242.5" x2="122.7" y2="240" stroke="#222" stroke-width="0.7" />
<line x1="122.7" y1="288.5" x2="122.7" y2="286" stroke="#222" stroke-width="0.7" />
<line x1="137" y1="333.5" x2="137" y2="335.1" stroke="#222" stroke-width="0.7" />
<line x1="151.3" y1="333.5" x2="151.3" y2="336.5" stroke="#222" stroke-width="0.7" />
<line x1="151.3" y1="242.5" x2="151.3" y2="240" stroke="#222" stroke-width="0.7" />
<line x1="151.3" y1="288.5" x2="151.3" y2="286" stroke="#222" stroke-width="0.7" />
<line x1="165.6" y1="333.5" x2="165.6" y2="335.1" stroke="#222" stroke-width="0.7" />
<line x1="179.9" y1="333.5" x2="179.9" y2="336.5" stroke="#222" stroke-width="0.7" />
<line x1="179.9" y1="242.5" x2="179.9" y2="240" stroke="#222" stroke-width="0.7" />
<line x1="179.9" y1="288.5" x2="179.9" y2="286" stroke="#222" stroke-width="0.7" />
<line x1="194.2" y1="333.5" x2="194.2" y2="335.1" stroke="#222" stroke-width="0.7" />
<line x1="208.5" y1="333.5" x2="208.5" y2="336.5" stroke="#222" stroke-width="0.7" />
<line x1="208.5" y1="242.5" x2="208.5" y2="240" stroke="#222" stroke-width="0.7" />
<line x1="208.5" y1="288.5" x2="208.5" y2="286" stroke="#222" stroke-width="0.7" />
<text x="65.5" y="349" text-anchor="middle" font-size="8.8" fill="#000"  stroke="#000" stroke-width="0.22" stroke-opacity="0.6">5</text>
<text x="94.1" y="349" text-anchor="middle" font-size="8.8" fill="#000"  stroke="#000" stroke-width="0.22" stroke-opacity="0.6">10</text>
<text x="122.7" y="349" text-anchor="middle" font-size="8.8" fill="#000"  stroke="#000" stroke-width="0.22" stroke-opacity="0.6">15</text>
<text x="151.3" y="349" text-anchor="middle" font-size="8.8" fill="#000"  stroke="#000" stroke-width="0.22" stroke-opacity="0.6">20</text>
<text x="179.9" y="349" text-anchor="middle" font-size="8.8" fill="#000"  stroke="#000" stroke-width="0.22" stroke-opacity="0.6">25</text>
<text x="208.5" y="349" text-anchor="middle" font-size="8.8" fill="#000"  stroke="#000" stroke-width="0.22" stroke-opacity="0.6">30</text>
<text x="126.7" y="362.8" text-anchor="middle" font-size="9.1" fill="#000" stroke="#000" stroke-width="0.22" stroke-opacity="0.6"><tspan font-style="italic">X</tspan>-axis (μm)</text>
<text transform="translate(15.4,266.5) rotate(-90)" text-anchor="middle" font-size="9.1" fill="#000" stroke="#000" stroke-width="0.22" stroke-opacity="0.6">Thickness (nm)</text>
<text x="97" y="216.6" text-anchor="start" font-size="9.1" fill="#000"  stroke="#000" stroke-width="0.22" stroke-opacity="0.6">QDs</text>
<text x="97.2" y="261.2" text-anchor="start" font-size="9.1" fill="#000"  stroke="#000" stroke-width="0.22" stroke-opacity="0.6">TFB</text>
<text x="97.2" y="273.6" text-anchor="start" font-size="9.1" fill="#000"  stroke="#000" stroke-width="0.22" stroke-opacity="0.6">PEDOT:PSS</text>
<text x="97.2" y="307.2" text-anchor="start" font-size="9.1" fill="#000"  stroke="#000" stroke-width="0.22" stroke-opacity="0.6">Photolithography</text>
<text x="97.2" y="318.9" text-anchor="start" font-size="9.1" fill="#000"  stroke="#000" stroke-width="0.22" stroke-opacity="0.6">template</text>
<text x="254" y="200.5" text-anchor="start" font-size="15" fill="#000" font-weight="bold">e</text>
<line x1="295.3" y1="196.8" x2="373.5" y2="196.8" stroke="#8a8a8a" stroke-width="1.2" />
<line x1="373.5" y1="196.8" x2="373.5" y2="333.7" stroke="#444" stroke-width="1" />
<line x1="295.3" y1="333.7" x2="373.5" y2="333.7" stroke="#222" stroke-width="1" />
<line x1="295.3" y1="196.8" x2="295.3" y2="333.7" stroke="#8a8a8a" stroke-width="1.2" />
<line x1="292.9" y1="333.2" x2="294.8" y2="333.2" stroke="#222" stroke-width="0.8" />
<line x1="374" y1="333.2" x2="375.9" y2="333.2" stroke="#222" stroke-width="0.8" />
<line x1="294" y1="326.73" x2="294.8" y2="326.73" stroke="#222" stroke-width="0.6" />
<line x1="374" y1="326.73" x2="374.8" y2="326.73" stroke="#222" stroke-width="0.6" />
<line x1="294" y1="322.94" x2="294.8" y2="322.94" stroke="#222" stroke-width="0.6" />
<line x1="374" y1="322.94" x2="374.8" y2="322.94" stroke="#222" stroke-width="0.6" />
<line x1="294" y1="320.26" x2="294.8" y2="320.26" stroke="#222" stroke-width="0.6" />
<line x1="374" y1="320.26" x2="374.8" y2="320.26" stroke="#222" stroke-width="0.6" />
<line x1="294" y1="318.17" x2="294.8" y2="318.17" stroke="#222" stroke-width="0.6" />
<line x1="374" y1="318.17" x2="374.8" y2="318.17" stroke="#222" stroke-width="0.6" />
<line x1="294" y1="316.47" x2="294.8" y2="316.47" stroke="#222" stroke-width="0.6" />
<line x1="374" y1="316.47" x2="374.8" y2="316.47" stroke="#222" stroke-width="0.6" />
<line x1="294" y1="315.03" x2="294.8" y2="315.03" stroke="#222" stroke-width="0.6" />
<line x1="374" y1="315.03" x2="374.8" y2="315.03" stroke="#222" stroke-width="0.6" />
<line x1="294" y1="313.78" x2="294.8" y2="313.78" stroke="#222" stroke-width="0.6" />
<line x1="374" y1="313.78" x2="374.8" y2="313.78" stroke="#222" stroke-width="0.6" />
<line x1="294" y1="312.68" x2="294.8" y2="312.68" stroke="#222" stroke-width="0.6" />
<line x1="374" y1="312.68" x2="374.8" y2="312.68" stroke="#222" stroke-width="0.6" />
<line x1="292.9" y1="311.7" x2="294.8" y2="311.7" stroke="#222" stroke-width="0.8" />
<line x1="374" y1="311.7" x2="375.9" y2="311.7" stroke="#222" stroke-width="0.8" />
<line x1="294" y1="305.23" x2="294.8" y2="305.23" stroke="#222" stroke-width="0.6" />
<line x1="374" y1="305.23" x2="374.8" y2="305.23" stroke="#222" stroke-width="0.6" />
<line x1="294" y1="301.44" x2="294.8" y2="301.44" stroke="#222" stroke-width="0.6" />
<line x1="374" y1="301.44" x2="374.8" y2="301.44" stroke="#222" stroke-width="0.6" />
<line x1="294" y1="298.76" x2="294.8" y2="298.76" stroke="#222" stroke-width="0.6" />
<line x1="374" y1="298.76" x2="374.8" y2="298.76" stroke="#222" stroke-width="0.6" />
<line x1="294" y1="296.67" x2="294.8" y2="296.67" stroke="#222" stroke-width="0.6" />
<line x1="374" y1="296.67" x2="374.8" y2="296.67" stroke="#222" stroke-width="0.6" />
<line x1="294" y1="294.97" x2="294.8" y2="294.97" stroke="#222" stroke-width="0.6" />
<line x1="374" y1="294.97" x2="374.8" y2="294.97" stroke="#222" stroke-width="0.6" />
<line x1="294" y1="293.53" x2="294.8" y2="293.53" stroke="#222" stroke-width="0.6" />
<line x1="374" y1="293.53" x2="374.8" y2="293.53" stroke="#222" stroke-width="0.6" />
<line x1="294" y1="292.28" x2="294.8" y2="292.28" stroke="#222" stroke-width="0.6" />
<line x1="374" y1="292.28" x2="374.8" y2="292.28" stroke="#222" stroke-width="0.6" />
<line x1="294" y1="291.18" x2="294.8" y2="291.18" stroke="#222" stroke-width="0.6" />
<line x1="374" y1="291.18" x2="374.8" y2="291.18" stroke="#222" stroke-width="0.6" />
<line x1="292.9" y1="290.2" x2="294.8" y2="290.2" stroke="#222" stroke-width="0.8" />
<line x1="374" y1="290.2" x2="375.9" y2="290.2" stroke="#222" stroke-width="0.8" />
<line x1="294" y1="283.73" x2="294.8" y2="283.73" stroke="#222" stroke-width="0.6" />
<line x1="374" y1="283.73" x2="374.8" y2="283.73" stroke="#222" stroke-width="0.6" />
<line x1="294" y1="279.94" x2="294.8" y2="279.94" stroke="#222" stroke-width="0.6" />
<line x1="374" y1="279.94" x2="374.8" y2="279.94" stroke="#222" stroke-width="0.6" />
<line x1="294" y1="277.26" x2="294.8" y2="277.26" stroke="#222" stroke-width="0.6" />
<line x1="374" y1="277.26" x2="374.8" y2="277.26" stroke="#222" stroke-width="0.6" />
<line x1="294" y1="275.17" x2="294.8" y2="275.17" stroke="#222" stroke-width="0.6" />
<line x1="374" y1="275.17" x2="374.8" y2="275.17" stroke="#222" stroke-width="0.6" />
<line x1="294" y1="273.47" x2="294.8" y2="273.47" stroke="#222" stroke-width="0.6" />
<line x1="374" y1="273.47" x2="374.8" y2="273.47" stroke="#222" stroke-width="0.6" />
<line x1="294" y1="272.03" x2="294.8" y2="272.03" stroke="#222" stroke-width="0.6" />
<line x1="374" y1="272.03" x2="374.8" y2="272.03" stroke="#222" stroke-width="0.6" />
<line x1="294" y1="270.78" x2="294.8" y2="270.78" stroke="#222" stroke-width="0.6" />
<line x1="374" y1="270.78" x2="374.8" y2="270.78" stroke="#222" stroke-width="0.6" />
<line x1="294" y1="269.68" x2="294.8" y2="269.68" stroke="#222" stroke-width="0.6" />
<line x1="374" y1="269.68" x2="374.8" y2="269.68" stroke="#222" stroke-width="0.6" />
<line x1="292.9" y1="268.7" x2="294.8" y2="268.7" stroke="#222" stroke-width="0.8" />
<line x1="374" y1="268.7" x2="375.9" y2="268.7" stroke="#222" stroke-width="0.8" />
<line x1="294" y1="262.23" x2="294.8" y2="262.23" stroke="#222" stroke-width="0.6" />
<line x1="374" y1="262.23" x2="374.8" y2="262.23" stroke="#222" stroke-width="0.6" />
<line x1="294" y1="258.44" x2="294.8" y2="258.44" stroke="#222" stroke-width="0.6" />
<line x1="374" y1="258.44" x2="374.8" y2="258.44" stroke="#222" stroke-width="0.6" />
<line x1="294" y1="255.76" x2="294.8" y2="255.76" stroke="#222" stroke-width="0.6" />
<line x1="374" y1="255.76" x2="374.8" y2="255.76" stroke="#222" stroke-width="0.6" />
<line x1="294" y1="253.67" x2="294.8" y2="253.67" stroke="#222" stroke-width="0.6" />
<line x1="374" y1="253.67" x2="374.8" y2="253.67" stroke="#222" stroke-width="0.6" />
<line x1="294" y1="251.97" x2="294.8" y2="251.97" stroke="#222" stroke-width="0.6" />
<line x1="374" y1="251.97" x2="374.8" y2="251.97" stroke="#222" stroke-width="0.6" />
<line x1="294" y1="250.53" x2="294.8" y2="250.53" stroke="#222" stroke-width="0.6" />
<line x1="374" y1="250.53" x2="374.8" y2="250.53" stroke="#222" stroke-width="0.6" />
<line x1="294" y1="249.28" x2="294.8" y2="249.28" stroke="#222" stroke-width="0.6" />
<line x1="374" y1="249.28" x2="374.8" y2="249.28" stroke="#222" stroke-width="0.6" />
<line x1="294" y1="248.18" x2="294.8" y2="248.18" stroke="#222" stroke-width="0.6" />
<line x1="374" y1="248.18" x2="374.8" y2="248.18" stroke="#222" stroke-width="0.6" />
<line x1="292.9" y1="247.2" x2="294.8" y2="247.2" stroke="#222" stroke-width="0.8" />
<line x1="374" y1="247.2" x2="375.9" y2="247.2" stroke="#222" stroke-width="0.8" />
<line x1="294" y1="240.73" x2="294.8" y2="240.73" stroke="#222" stroke-width="0.6" />
<line x1="374" y1="240.73" x2="374.8" y2="240.73" stroke="#222" stroke-width="0.6" />
<line x1="294" y1="236.94" x2="294.8" y2="236.94" stroke="#222" stroke-width="0.6" />
<line x1="374" y1="236.94" x2="374.8" y2="236.94" stroke="#222" stroke-width="0.6" />
<line x1="294" y1="234.26" x2="294.8" y2="234.26" stroke="#222" stroke-width="0.6" />
<line x1="374" y1="234.26" x2="374.8" y2="234.26" stroke="#222" stroke-width="0.6" />
<line x1="294" y1="232.17" x2="294.8" y2="232.17" stroke="#222" stroke-width="0.6" />
<line x1="374" y1="232.17" x2="374.8" y2="232.17" stroke="#222" stroke-width="0.6" />
<line x1="294" y1="230.47" x2="294.8" y2="230.47" stroke="#222" stroke-width="0.6" />
<line x1="374" y1="230.47" x2="374.8" y2="230.47" stroke="#222" stroke-width="0.6" />
<line x1="294" y1="229.03" x2="294.8" y2="229.03" stroke="#222" stroke-width="0.6" />
<line x1="374" y1="229.03" x2="374.8" y2="229.03" stroke="#222" stroke-width="0.6" />
<line x1="294" y1="227.78" x2="294.8" y2="227.78" stroke="#222" stroke-width="0.6" />
<line x1="374" y1="227.78" x2="374.8" y2="227.78" stroke="#222" stroke-width="0.6" />
<line x1="294" y1="226.68" x2="294.8" y2="226.68" stroke="#222" stroke-width="0.6" />
<line x1="374" y1="226.68" x2="374.8" y2="226.68" stroke="#222" stroke-width="0.6" />
<line x1="292.9" y1="225.7" x2="294.8" y2="225.7" stroke="#222" stroke-width="0.8" />
<line x1="374" y1="225.7" x2="375.9" y2="225.7" stroke="#222" stroke-width="0.8" />
<line x1="294" y1="219.23" x2="294.8" y2="219.23" stroke="#222" stroke-width="0.6" />
<line x1="374" y1="219.23" x2="374.8" y2="219.23" stroke="#222" stroke-width="0.6" />
<line x1="294" y1="215.44" x2="294.8" y2="215.44" stroke="#222" stroke-width="0.6" />
<line x1="374" y1="215.44" x2="374.8" y2="215.44" stroke="#222" stroke-width="0.6" />
<line x1="294" y1="212.76" x2="294.8" y2="212.76" stroke="#222" stroke-width="0.6" />
<line x1="374" y1="212.76" x2="374.8" y2="212.76" stroke="#222" stroke-width="0.6" />
<line x1="294" y1="210.67" x2="294.8" y2="210.67" stroke="#222" stroke-width="0.6" />
<line x1="374" y1="210.67" x2="374.8" y2="210.67" stroke="#222" stroke-width="0.6" />
<line x1="294" y1="208.97" x2="294.8" y2="208.97" stroke="#222" stroke-width="0.6" />
<line x1="374" y1="208.97" x2="374.8" y2="208.97" stroke="#222" stroke-width="0.6" />
<line x1="294" y1="207.53" x2="294.8" y2="207.53" stroke="#222" stroke-width="0.6" />
<line x1="374" y1="207.53" x2="374.8" y2="207.53" stroke="#222" stroke-width="0.6" />
<line x1="294" y1="206.28" x2="294.8" y2="206.28" stroke="#222" stroke-width="0.6" />
<line x1="374" y1="206.28" x2="374.8" y2="206.28" stroke="#222" stroke-width="0.6" />
<line x1="294" y1="205.18" x2="294.8" y2="205.18" stroke="#222" stroke-width="0.6" />
<line x1="374" y1="205.18" x2="374.8" y2="205.18" stroke="#222" stroke-width="0.6" />
<line x1="292.9" y1="204.2" x2="294.8" y2="204.2" stroke="#222" stroke-width="0.8" />
<line x1="374" y1="204.2" x2="375.9" y2="204.2" stroke="#222" stroke-width="0.8" />
<line x1="295.6" y1="333.7" x2="295.6" y2="336.7" stroke="#222" stroke-width="0.7" />
<line x1="308.55" y1="333.7" x2="308.55" y2="335.3" stroke="#222" stroke-width="0.7" />
<line x1="321.5" y1="333.7" x2="321.5" y2="336.7" stroke="#222" stroke-width="0.7" />
<line x1="334.45" y1="333.7" x2="334.45" y2="335.3" stroke="#222" stroke-width="0.7" />
<line x1="347.4" y1="333.7" x2="347.4" y2="336.7" stroke="#222" stroke-width="0.7" />
<line x1="360.35" y1="333.7" x2="360.35" y2="335.3" stroke="#222" stroke-width="0.7" />
<line x1="373.3" y1="333.7" x2="373.3" y2="336.7" stroke="#222" stroke-width="0.7" />
<text x="295.6" y="349" text-anchor="middle" font-size="8.8" fill="#000"  stroke="#000" stroke-width="0.22" stroke-opacity="0.6">0</text>
<text x="321.5" y="349" text-anchor="middle" font-size="8.8" fill="#000"  stroke="#000" stroke-width="0.22" stroke-opacity="0.6">1</text>
<text x="347.4" y="349" text-anchor="middle" font-size="8.8" fill="#000"  stroke="#000" stroke-width="0.22" stroke-opacity="0.6">2</text>
<text x="373.3" y="349" text-anchor="middle" font-size="8.8" fill="#000"  stroke="#000" stroke-width="0.22" stroke-opacity="0.6">3</text>
<line x1="380.3" y1="196.8" x2="457.9" y2="196.8" stroke="#8a8a8a" stroke-width="1.2" />
<line x1="457.9" y1="196.8" x2="457.9" y2="333.7" stroke="#444" stroke-width="1" />
<line x1="380.3" y1="333.7" x2="457.9" y2="333.7" stroke="#222" stroke-width="1" />
<line x1="380.3" y1="196.8" x2="380.3" y2="333.7" stroke="#555" stroke-width="1.2" />
<line x1="377.9" y1="333.2" x2="379.8" y2="333.2" stroke="#222" stroke-width="0.8" />
<line x1="379" y1="326.73" x2="379.8" y2="326.73" stroke="#222" stroke-width="0.6" />
<line x1="379" y1="322.94" x2="379.8" y2="322.94" stroke="#222" stroke-width="0.6" />
<line x1="379" y1="320.26" x2="379.8" y2="320.26" stroke="#222" stroke-width="0.6" />
<line x1="379" y1="318.17" x2="379.8" y2="318.17" stroke="#222" stroke-width="0.6" />
<line x1="379" y1="316.47" x2="379.8" y2="316.47" stroke="#222" stroke-width="0.6" />
<line x1="379" y1="315.03" x2="379.8" y2="315.03" stroke="#222" stroke-width="0.6" />
<line x1="379" y1="313.78" x2="379.8" y2="313.78" stroke="#222" stroke-width="0.6" />
<line x1="379" y1="312.68" x2="379.8" y2="312.68" stroke="#222" stroke-width="0.6" />
<line x1="377.9" y1="311.7" x2="379.8" y2="311.7" stroke="#222" stroke-width="0.8" />
<line x1="379" y1="305.23" x2="379.8" y2="305.23" stroke="#222" stroke-width="0.6" />
<line x1="379" y1="301.44" x2="379.8" y2="301.44" stroke="#222" stroke-width="0.6" />
<line x1="379" y1="298.76" x2="379.8" y2="298.76" stroke="#222" stroke-width="0.6" />
<line x1="379" y1="296.67" x2="379.8" y2="296.67" stroke="#222" stroke-width="0.6" />
<line x1="379" y1="294.97" x2="379.8" y2="294.97" stroke="#222" stroke-width="0.6" />
<line x1="379" y1="293.53" x2="379.8" y2="293.53" stroke="#222" stroke-width="0.6" />
<line x1="379" y1="292.28" x2="379.8" y2="292.28" stroke="#222" stroke-width="0.6" />
<line x1="379" y1="291.18" x2="379.8" y2="291.18" stroke="#222" stroke-width="0.6" />
<line x1="377.9" y1="290.2" x2="379.8" y2="290.2" stroke="#222" stroke-width="0.8" />
<line x1="379" y1="283.73" x2="379.8" y2="283.73" stroke="#222" stroke-width="0.6" />
<line x1="379" y1="279.94" x2="379.8" y2="279.94" stroke="#222" stroke-width="0.6" />
<line x1="379" y1="277.26" x2="379.8" y2="277.26" stroke="#222" stroke-width="0.6" />
<line x1="379" y1="275.17" x2="379.8" y2="275.17" stroke="#222" stroke-width="0.6" />
<line x1="379" y1="273.47" x2="379.8" y2="273.47" stroke="#222" stroke-width="0.6" />
<line x1="379" y1="272.03" x2="379.8" y2="272.03" stroke="#222" stroke-width="0.6" />
<line x1="379" y1="270.78" x2="379.8" y2="270.78" stroke="#222" stroke-width="0.6" />
<line x1="379" y1="269.68" x2="379.8" y2="269.68" stroke="#222" stroke-width="0.6" />
<line x1="377.9" y1="268.7" x2="379.8" y2="268.7" stroke="#222" stroke-width="0.8" />
<line x1="379" y1="262.23" x2="379.8" y2="262.23" stroke="#222" stroke-width="0.6" />
<line x1="379" y1="258.44" x2="379.8" y2="258.44" stroke="#222" stroke-width="0.6" />
<line x1="379" y1="255.76" x2="379.8" y2="255.76" stroke="#222" stroke-width="0.6" />
<line x1="379" y1="253.67" x2="379.8" y2="253.67" stroke="#222" stroke-width="0.6" />
<line x1="379" y1="251.97" x2="379.8" y2="251.97" stroke="#222" stroke-width="0.6" />
<line x1="379" y1="250.53" x2="379.8" y2="250.53" stroke="#222" stroke-width="0.6" />
<line x1="379" y1="249.28" x2="379.8" y2="249.28" stroke="#222" stroke-width="0.6" />
<line x1="379" y1="248.18" x2="379.8" y2="248.18" stroke="#222" stroke-width="0.6" />
<line x1="377.9" y1="247.2" x2="379.8" y2="247.2" stroke="#222" stroke-width="0.8" />
<line x1="379" y1="240.73" x2="379.8" y2="240.73" stroke="#222" stroke-width="0.6" />
<line x1="379" y1="236.94" x2="379.8" y2="236.94" stroke="#222" stroke-width="0.6" />
<line x1="379" y1="234.26" x2="379.8" y2="234.26" stroke="#222" stroke-width="0.6" />
<line x1="379" y1="232.17" x2="379.8" y2="232.17" stroke="#222" stroke-width="0.6" />
<line x1="379" y1="230.47" x2="379.8" y2="230.47" stroke="#222" stroke-width="0.6" />
<line x1="379" y1="229.03" x2="379.8" y2="229.03" stroke="#222" stroke-width="0.6" />
<line x1="379" y1="227.78" x2="379.8" y2="227.78" stroke="#222" stroke-width="0.6" />
<line x1="379" y1="226.68" x2="379.8" y2="226.68" stroke="#222" stroke-width="0.6" />
<line x1="377.9" y1="225.7" x2="379.8" y2="225.7" stroke="#222" stroke-width="0.8" />
<line x1="379" y1="219.23" x2="379.8" y2="219.23" stroke="#222" stroke-width="0.6" />
<line x1="379" y1="215.44" x2="379.8" y2="215.44" stroke="#222" stroke-width="0.6" />
<line x1="379" y1="212.76" x2="379.8" y2="212.76" stroke="#222" stroke-width="0.6" />
<line x1="379" y1="210.67" x2="379.8" y2="210.67" stroke="#222" stroke-width="0.6" />
<line x1="379" y1="208.97" x2="379.8" y2="208.97" stroke="#222" stroke-width="0.6" />
<line x1="379" y1="207.53" x2="379.8" y2="207.53" stroke="#222" stroke-width="0.6" />
<line x1="379" y1="206.28" x2="379.8" y2="206.28" stroke="#222" stroke-width="0.6" />
<line x1="379" y1="205.18" x2="379.8" y2="205.18" stroke="#222" stroke-width="0.6" />
<line x1="377.9" y1="204.2" x2="379.8" y2="204.2" stroke="#222" stroke-width="0.8" />
<line x1="380.5" y1="333.7" x2="380.5" y2="336.7" stroke="#222" stroke-width="0.7" />
<line x1="393.38" y1="333.7" x2="393.38" y2="335.3" stroke="#222" stroke-width="0.7" />
<line x1="406.25" y1="333.7" x2="406.25" y2="336.7" stroke="#222" stroke-width="0.7" />
<line x1="419.12" y1="333.7" x2="419.12" y2="335.3" stroke="#222" stroke-width="0.7" />
<line x1="432" y1="333.7" x2="432" y2="336.7" stroke="#222" stroke-width="0.7" />
<line x1="444.88" y1="333.7" x2="444.88" y2="335.3" stroke="#222" stroke-width="0.7" />
<line x1="457.75" y1="333.7" x2="457.75" y2="336.7" stroke="#222" stroke-width="0.7" />
<text x="380.5" y="349" text-anchor="middle" font-size="8.8" fill="#000"  stroke="#000" stroke-width="0.22" stroke-opacity="0.6">0</text>
<text x="406.25" y="349" text-anchor="middle" font-size="8.8" fill="#000"  stroke="#000" stroke-width="0.22" stroke-opacity="0.6">1</text>
<text x="432" y="349" text-anchor="middle" font-size="8.8" fill="#000"  stroke="#000" stroke-width="0.22" stroke-opacity="0.6">2</text>
<text x="457.75" y="349" text-anchor="middle" font-size="8.8" fill="#000"  stroke="#000" stroke-width="0.22" stroke-opacity="0.6">3</text>
<line x1="457.9" y1="333.2" x2="460.9" y2="333.2" stroke="#222" stroke-width="0.8" />
<line x1="457.9" y1="326.73" x2="459.4" y2="326.73" stroke="#222" stroke-width="0.6" />
<line x1="457.9" y1="322.94" x2="459.4" y2="322.94" stroke="#222" stroke-width="0.6" />
<line x1="457.9" y1="320.26" x2="459.4" y2="320.26" stroke="#222" stroke-width="0.6" />
<line x1="457.9" y1="318.17" x2="459.4" y2="318.17" stroke="#222" stroke-width="0.6" />
<line x1="457.9" y1="316.47" x2="459.4" y2="316.47" stroke="#222" stroke-width="0.6" />
<line x1="457.9" y1="315.03" x2="459.4" y2="315.03" stroke="#222" stroke-width="0.6" />
<line x1="457.9" y1="313.78" x2="459.4" y2="313.78" stroke="#222" stroke-width="0.6" />
<line x1="457.9" y1="312.68" x2="459.4" y2="312.68" stroke="#222" stroke-width="0.6" />
<line x1="457.9" y1="311.7" x2="460.9" y2="311.7" stroke="#222" stroke-width="0.8" />
<line x1="457.9" y1="305.23" x2="459.4" y2="305.23" stroke="#222" stroke-width="0.6" />
<line x1="457.9" y1="301.44" x2="459.4" y2="301.44" stroke="#222" stroke-width="0.6" />
<line x1="457.9" y1="298.76" x2="459.4" y2="298.76" stroke="#222" stroke-width="0.6" />
<line x1="457.9" y1="296.67" x2="459.4" y2="296.67" stroke="#222" stroke-width="0.6" />
<line x1="457.9" y1="294.97" x2="459.4" y2="294.97" stroke="#222" stroke-width="0.6" />
<line x1="457.9" y1="293.53" x2="459.4" y2="293.53" stroke="#222" stroke-width="0.6" />
<line x1="457.9" y1="292.28" x2="459.4" y2="292.28" stroke="#222" stroke-width="0.6" />
<line x1="457.9" y1="291.18" x2="459.4" y2="291.18" stroke="#222" stroke-width="0.6" />
<line x1="457.9" y1="290.2" x2="460.9" y2="290.2" stroke="#222" stroke-width="0.8" />
<line x1="457.9" y1="283.73" x2="459.4" y2="283.73" stroke="#222" stroke-width="0.6" />
<line x1="457.9" y1="279.94" x2="459.4" y2="279.94" stroke="#222" stroke-width="0.6" />
<line x1="457.9" y1="277.26" x2="459.4" y2="277.26" stroke="#222" stroke-width="0.6" />
<line x1="457.9" y1="275.17" x2="459.4" y2="275.17" stroke="#222" stroke-width="0.6" />
<line x1="457.9" y1="273.47" x2="459.4" y2="273.47" stroke="#222" stroke-width="0.6" />
<line x1="457.9" y1="272.03" x2="459.4" y2="272.03" stroke="#222" stroke-width="0.6" />
<line x1="457.9" y1="270.78" x2="459.4" y2="270.78" stroke="#222" stroke-width="0.6" />
<line x1="457.9" y1="269.68" x2="459.4" y2="269.68" stroke="#222" stroke-width="0.6" />
<line x1="457.9" y1="268.7" x2="460.9" y2="268.7" stroke="#222" stroke-width="0.8" />
<line x1="457.9" y1="262.23" x2="459.4" y2="262.23" stroke="#222" stroke-width="0.6" />
<line x1="457.9" y1="258.44" x2="459.4" y2="258.44" stroke="#222" stroke-width="0.6" />
<line x1="457.9" y1="255.76" x2="459.4" y2="255.76" stroke="#222" stroke-width="0.6" />
<line x1="457.9" y1="253.67" x2="459.4" y2="253.67" stroke="#222" stroke-width="0.6" />
<line x1="457.9" y1="251.97" x2="459.4" y2="251.97" stroke="#222" stroke-width="0.6" />
<line x1="457.9" y1="250.53" x2="459.4" y2="250.53" stroke="#222" stroke-width="0.6" />
<line x1="457.9" y1="249.28" x2="459.4" y2="249.28" stroke="#222" stroke-width="0.6" />
<line x1="457.9" y1="248.18" x2="459.4" y2="248.18" stroke="#222" stroke-width="0.6" />
<line x1="457.9" y1="247.2" x2="460.9" y2="247.2" stroke="#222" stroke-width="0.8" />
<line x1="457.9" y1="240.73" x2="459.4" y2="240.73" stroke="#222" stroke-width="0.6" />
<line x1="457.9" y1="236.94" x2="459.4" y2="236.94" stroke="#222" stroke-width="0.6" />
<line x1="457.9" y1="234.26" x2="459.4" y2="234.26" stroke="#222" stroke-width="0.6" />
<line x1="457.9" y1="232.17" x2="459.4" y2="232.17" stroke="#222" stroke-width="0.6" />
<line x1="457.9" y1="230.47" x2="459.4" y2="230.47" stroke="#222" stroke-width="0.6" />
<line x1="457.9" y1="229.03" x2="459.4" y2="229.03" stroke="#222" stroke-width="0.6" />
<line x1="457.9" y1="227.78" x2="459.4" y2="227.78" stroke="#222" stroke-width="0.6" />
<line x1="457.9" y1="226.68" x2="459.4" y2="226.68" stroke="#222" stroke-width="0.6" />
<line x1="457.9" y1="225.7" x2="460.9" y2="225.7" stroke="#222" stroke-width="0.8" />
<line x1="457.9" y1="219.23" x2="459.4" y2="219.23" stroke="#222" stroke-width="0.6" />
<line x1="457.9" y1="215.44" x2="459.4" y2="215.44" stroke="#222" stroke-width="0.6" />
<line x1="457.9" y1="212.76" x2="459.4" y2="212.76" stroke="#222" stroke-width="0.6" />
<line x1="457.9" y1="210.67" x2="459.4" y2="210.67" stroke="#222" stroke-width="0.6" />
<line x1="457.9" y1="208.97" x2="459.4" y2="208.97" stroke="#222" stroke-width="0.6" />
<line x1="457.9" y1="207.53" x2="459.4" y2="207.53" stroke="#222" stroke-width="0.6" />
<line x1="457.9" y1="206.28" x2="459.4" y2="206.28" stroke="#222" stroke-width="0.6" />
<line x1="457.9" y1="205.18" x2="459.4" y2="205.18" stroke="#222" stroke-width="0.6" />
<line x1="457.9" y1="204.2" x2="460.9" y2="204.2" stroke="#222" stroke-width="0.8" />
<text x="288.8" y="337.5" text-anchor="end" font-size="8.8" fill="#000"  stroke="#000" stroke-width="0.22" stroke-opacity="0.6">10<tspan font-size="5.98" dy="-3.5">&#8722;3</tspan></text>
<text x="465" y="335.8" text-anchor="start" font-size="8.8" fill="#000"  stroke="#000" stroke-width="0.22" stroke-opacity="0.6">10<tspan font-size="5.98" dy="-3.5">&#8722;3</tspan></text>
<text x="288.8" y="316" text-anchor="end" font-size="8.8" fill="#000"  stroke="#000" stroke-width="0.22" stroke-opacity="0.6">10<tspan font-size="5.98" dy="-3.5">&#8722;2</tspan></text>
<text x="465" y="314.3" text-anchor="start" font-size="8.8" fill="#000"  stroke="#000" stroke-width="0.22" stroke-opacity="0.6">10<tspan font-size="5.98" dy="-3.5">&#8722;2</tspan></text>
<text x="288.8" y="294.5" text-anchor="end" font-size="8.8" fill="#000"  stroke="#000" stroke-width="0.22" stroke-opacity="0.6">10<tspan font-size="5.98" dy="-3.5">&#8722;1</tspan></text>
<text x="465" y="292.8" text-anchor="start" font-size="8.8" fill="#000"  stroke="#000" stroke-width="0.22" stroke-opacity="0.6">10<tspan font-size="5.98" dy="-3.5">&#8722;1</tspan></text>
<text x="288.8" y="273" text-anchor="end" font-size="8.8" fill="#000"  stroke="#000" stroke-width="0.22" stroke-opacity="0.6">10<tspan font-size="5.98" dy="-3.5">0</tspan></text>
<text x="465" y="271.3" text-anchor="start" font-size="8.8" fill="#000"  stroke="#000" stroke-width="0.22" stroke-opacity="0.6">10<tspan font-size="5.98" dy="-3.5">0</tspan></text>
<text x="288.8" y="251.5" text-anchor="end" font-size="8.8" fill="#000"  stroke="#000" stroke-width="0.22" stroke-opacity="0.6">10<tspan font-size="5.98" dy="-3.5">1</tspan></text>
<text x="465" y="249.8" text-anchor="start" font-size="8.8" fill="#000"  stroke="#000" stroke-width="0.22" stroke-opacity="0.6">10<tspan font-size="5.98" dy="-3.5">1</tspan></text>
<text x="288.8" y="230" text-anchor="end" font-size="8.8" fill="#000"  stroke="#000" stroke-width="0.22" stroke-opacity="0.6">10<tspan font-size="5.98" dy="-3.5">2</tspan></text>
<text x="465" y="228.3" text-anchor="start" font-size="8.8" fill="#000"  stroke="#000" stroke-width="0.22" stroke-opacity="0.6">10<tspan font-size="5.98" dy="-3.5">2</tspan></text>
<text x="288.8" y="208.5" text-anchor="end" font-size="8.8" fill="#000"  stroke="#000" stroke-width="0.22" stroke-opacity="0.6">10<tspan font-size="5.98" dy="-3.5">3</tspan></text>
<text x="465" y="206.8" text-anchor="start" font-size="8.8" fill="#000"  stroke="#000" stroke-width="0.22" stroke-opacity="0.6">10<tspan font-size="5.98" dy="-3.5">3</tspan></text>
<text transform="translate(265.7,265) rotate(-90)" text-anchor="middle" font-size="9.1" fill="#000" stroke="#000" stroke-width="0.22" stroke-opacity="0.6">Current density (mA cm<tspan font-size="6.2" dy="-3.6">-2</tspan><tspan dy="3.6">)</tspan></text>
<text x="335" y="364.6" text-anchor="middle" font-size="9.1" fill="#000"  stroke="#000" stroke-width="0.22" stroke-opacity="0.6">Voltage (V)</text>
<text x="418.3" y="364.6" text-anchor="middle" font-size="9.1" fill="#000"  stroke="#000" stroke-width="0.22" stroke-opacity="0.6">Voltage (V)</text>
<polyline points="295.6,332.9 298.19,276.46 300.78,271.24 303.37,264.7 305.96,261.2 308.55,257.7 311.14,255.54 313.73,253.72 316.32,251.9 318.91,250.08 321.5,248.25 324.09,246.43 326.68,244.61 329.27,243.06 331.86,241.78 334.45,240.5 337.04,239.22 339.63,237.94 342.22,236.66 344.81,235.38 347.4,234.1 349.99,233.24 352.58,232.38 355.17,231.52 357.76,230.66 360.35,229.8 362.94,228.94 365.53,228.08 368.12,227.22 370.71,226.36 373.3,225.5" fill="none" stroke="#1f7f80" stroke-width="0.8" />
<polyline points="295.6,311.7 298.19,243.26 300.78,236.16 303.37,232 305.96,229.05 308.55,226.76 311.14,224.9 313.73,223.32 316.32,221.95 318.91,220.74 321.5,219.66 324.09,218.68 326.68,217.79 329.27,216.97 331.86,216.21 334.45,215.5 337.04,214.84 339.63,214.22 342.22,213.64 344.81,213.08 347.4,212.56 349.99,212.06 352.58,211.58 355.17,211.12 357.76,210.69 360.35,210.27 362.94,209.87 365.53,209.48 368.12,209.11 370.71,208.75 373.3,208.4" fill="none" stroke="#b00808" stroke-width="0.8" />
<path d="M295.6,330.8 L297.6,334.4 L293.6,334.4 Z" fill="#1c9090" stroke="#0c3c3c" stroke-width="0.45"/>
<path d="M298.19,274.36 L300.19,277.96 L296.19,277.96 Z" fill="#1c9090" stroke="#0c3c3c" stroke-width="0.45"/>
<path d="M300.78,269.14 L302.78,272.74 L298.78,272.74 Z" fill="#1c9090" stroke="#0c3c3c" stroke-width="0.45"/>
<path d="M303.37,262.6 L305.37,266.2 L301.37,266.2 Z" fill="#1c9090" stroke="#0c3c3c" stroke-width="0.45"/>
<path d="M305.96,259.1 L307.96,262.7 L303.96,262.7 Z" fill="#1c9090" stroke="#0c3c3c" stroke-width="0.45"/>
<path d="M308.55,255.6 L310.55,259.2 L306.55,259.2 Z" fill="#1c9090" stroke="#0c3c3c" stroke-width="0.45"/>
<path d="M311.14,253.44 L313.14,257.04 L309.14,257.04 Z" fill="#1c9090" stroke="#0c3c3c" stroke-width="0.45"/>
<path d="M313.73,251.62 L315.73,255.22 L311.73,255.22 Z" fill="#1c9090" stroke="#0c3c3c" stroke-width="0.45"/>
<path d="M316.32,249.8 L318.32,253.4 L314.32,253.4 Z" fill="#1c9090" stroke="#0c3c3c" stroke-width="0.45"/>
<path d="M318.91,247.98 L320.91,251.58 L316.91,251.58 Z" fill="#1c9090" stroke="#0c3c3c" stroke-width="0.45"/>
<path d="M321.5,246.15 L323.5,249.75 L319.5,249.75 Z" fill="#1c9090" stroke="#0c3c3c" stroke-width="0.45"/>
<path d="M324.09,244.33 L326.09,247.93 L322.09,247.93 Z" fill="#1c9090" stroke="#0c3c3c" stroke-width="0.45"/>
<path d="M326.68,242.51 L328.68,246.11 L324.68,246.11 Z" fill="#1c9090" stroke="#0c3c3c" stroke-width="0.45"/>
<path d="M329.27,240.96 L331.27,244.56 L327.27,244.56 Z" fill="#1c9090" stroke="#0c3c3c" stroke-width="0.45"/>
<path d="M331.86,239.68 L333.86,243.28 L329.86,243.28 Z" fill="#1c9090" stroke="#0c3c3c" stroke-width="0.45"/>
<path d="M334.45,238.4 L336.45,242 L332.45,242 Z" fill="#1c9090" stroke="#0c3c3c" stroke-width="0.45"/>
<path d="M337.04,237.12 L339.04,240.72 L335.04,240.72 Z" fill="#1c9090" stroke="#0c3c3c" stroke-width="0.45"/>
<path d="M339.63,235.84 L341.63,239.44 L337.63,239.44 Z" fill="#1c9090" stroke="#0c3c3c" stroke-width="0.45"/>
<path d="M342.22,234.56 L344.22,238.16 L340.22,238.16 Z" fill="#1c9090" stroke="#0c3c3c" stroke-width="0.45"/>
<path d="M344.81,233.28 L346.81,236.88 L342.81,236.88 Z" fill="#1c9090" stroke="#0c3c3c" stroke-width="0.45"/>
<path d="M347.4,232 L349.4,235.6 L345.4,235.6 Z" fill="#1c9090" stroke="#0c3c3c" stroke-width="0.45"/>
<path d="M349.99,231.14 L351.99,234.74 L347.99,234.74 Z" fill="#1c9090" stroke="#0c3c3c" stroke-width="0.45"/>
<path d="M352.58,230.28 L354.58,233.88 L350.58,233.88 Z" fill="#1c9090" stroke="#0c3c3c" stroke-width="0.45"/>
<path d="M355.17,229.42 L357.17,233.02 L353.17,233.02 Z" fill="#1c9090" stroke="#0c3c3c" stroke-width="0.45"/>
<path d="M357.76,228.56 L359.76,232.16 L355.76,232.16 Z" fill="#1c9090" stroke="#0c3c3c" stroke-width="0.45"/>
<path d="M360.35,227.7 L362.35,231.3 L358.35,231.3 Z" fill="#1c9090" stroke="#0c3c3c" stroke-width="0.45"/>
<path d="M362.94,226.84 L364.94,230.44 L360.94,230.44 Z" fill="#1c9090" stroke="#0c3c3c" stroke-width="0.45"/>
<path d="M365.53,225.98 L367.53,229.58 L363.53,229.58 Z" fill="#1c9090" stroke="#0c3c3c" stroke-width="0.45"/>
<path d="M368.12,225.12 L370.12,228.72 L366.12,228.72 Z" fill="#1c9090" stroke="#0c3c3c" stroke-width="0.45"/>
<path d="M370.71,224.26 L372.71,227.86 L368.71,227.86 Z" fill="#1c9090" stroke="#0c3c3c" stroke-width="0.45"/>
<path d="M373.3,223.4 L375.3,227 L371.3,227 Z" fill="#1c9090" stroke="#0c3c3c" stroke-width="0.45"/>
<circle cx="295.6" cy="311.7" r="1.8" fill="#ee1111" stroke="none" stroke-width="0"/>
<circle cx="298.19" cy="243.26" r="1.55" fill="#d00000" stroke="#500000" stroke-width="0.5"/>
<circle cx="300.78" cy="236.16" r="1.55" fill="#d00000" stroke="#500000" stroke-width="0.5"/>
<circle cx="303.37" cy="232" r="1.55" fill="#d00000" stroke="#500000" stroke-width="0.5"/>
<circle cx="305.96" cy="229.05" r="1.55" fill="#d00000" stroke="#500000" stroke-width="0.5"/>
<circle cx="308.55" cy="226.76" r="1.55" fill="#d00000" stroke="#500000" stroke-width="0.5"/>
<circle cx="311.14" cy="224.9" r="1.55" fill="#d00000" stroke="#500000" stroke-width="0.5"/>
<circle cx="313.73" cy="223.32" r="1.55" fill="#d00000" stroke="#500000" stroke-width="0.5"/>
<circle cx="316.32" cy="221.95" r="1.55" fill="#d00000" stroke="#500000" stroke-width="0.5"/>
<circle cx="318.91" cy="220.74" r="1.55" fill="#d00000" stroke="#500000" stroke-width="0.5"/>
<circle cx="321.5" cy="219.66" r="1.55" fill="#d00000" stroke="#500000" stroke-width="0.5"/>
<circle cx="324.09" cy="218.68" r="1.55" fill="#d00000" stroke="#500000" stroke-width="0.5"/>
<circle cx="326.68" cy="217.79" r="1.55" fill="#d00000" stroke="#500000" stroke-width="0.5"/>
<circle cx="329.27" cy="216.97" r="1.55" fill="#d00000" stroke="#500000" stroke-width="0.5"/>
<circle cx="331.86" cy="216.21" r="1.55" fill="#d00000" stroke="#500000" stroke-width="0.5"/>
<circle cx="334.45" cy="215.5" r="1.55" fill="#d00000" stroke="#500000" stroke-width="0.5"/>
<circle cx="337.04" cy="214.84" r="1.55" fill="#d00000" stroke="#500000" stroke-width="0.5"/>
<circle cx="339.63" cy="214.22" r="1.55" fill="#d00000" stroke="#500000" stroke-width="0.5"/>
<circle cx="342.22" cy="213.64" r="1.55" fill="#d00000" stroke="#500000" stroke-width="0.5"/>
<circle cx="344.81" cy="213.08" r="1.55" fill="#d00000" stroke="#500000" stroke-width="0.5"/>
<circle cx="347.4" cy="212.56" r="1.55" fill="#d00000" stroke="#500000" stroke-width="0.5"/>
<circle cx="349.99" cy="212.06" r="1.55" fill="#d00000" stroke="#500000" stroke-width="0.5"/>
<circle cx="352.58" cy="211.58" r="1.55" fill="#d00000" stroke="#500000" stroke-width="0.5"/>
<circle cx="355.17" cy="211.12" r="1.55" fill="#d00000" stroke="#500000" stroke-width="0.5"/>
<circle cx="357.76" cy="210.69" r="1.55" fill="#d00000" stroke="#500000" stroke-width="0.5"/>
<circle cx="360.35" cy="210.27" r="1.55" fill="#d00000" stroke="#500000" stroke-width="0.5"/>
<circle cx="362.94" cy="209.87" r="1.55" fill="#d00000" stroke="#500000" stroke-width="0.5"/>
<circle cx="365.53" cy="209.48" r="1.55" fill="#d00000" stroke="#500000" stroke-width="0.5"/>
<circle cx="368.12" cy="209.11" r="1.55" fill="#d00000" stroke="#500000" stroke-width="0.5"/>
<circle cx="370.71" cy="208.75" r="1.55" fill="#d00000" stroke="#500000" stroke-width="0.5"/>
<circle cx="373.3" cy="208.4" r="1.55" fill="#d00000" stroke="#500000" stroke-width="0.5"/>
<text x="302.3" y="209.7" text-anchor="start" font-size="9.1" fill="#000"  stroke="#000" stroke-width="0.22" stroke-opacity="0.6">4 × 4 μm<tspan font-size="5.5" dy="-3.3">2</tspan></text>
<text x="308.6" y="237.4" text-anchor="start" font-size="9.1" fill="#000"  stroke="#000" stroke-width="0.22" stroke-opacity="0.6">1 HIL</text>
<text x="339.1" y="269.8" text-anchor="start" font-size="8.85" fill="#000"  stroke="#000" stroke-width="0.22" stroke-opacity="0.6">Pristine</text>
<rect x="320.7" y="278.3" width="19" height="31.1" fill="#bce2fa" stroke="none" stroke-width="0" />
<rect x="339.7" y="296" width="19.2" height="21.7" fill="#0a9ef6" stroke="none" stroke-width="0" />
<text x="330.9" y="297.6" text-anchor="middle" font-size="8.6" fill="#111"  stroke="#111" stroke-width="0.22" stroke-opacity="0.6">HTL</text>
<text x="350" y="308.7" text-anchor="middle" font-size="8.7" fill="#111"  stroke="#111" stroke-width="0.22" stroke-opacity="0.6">QD</text>
<path d="M329.2,311.8 C329.6,318 334,323.4 340.5,323.4 C344,323.4 346.2,322.2 348,320.8" fill="none" stroke="#222" stroke-width="0.95"/>
<path d="M350.6,318.2 L346.2,320.1 L348.9,322.6 Z" fill="#222"/>
<circle cx="329.2" cy="310.6" r="1.3" fill="#fff" stroke="#222" stroke-width="0.7"/>
<polyline points="380.5,326 383.07,261 385.65,256.2 388.23,253.4 390.8,251.44 393.38,249.92 395.95,248.32 398.52,246.74 401.1,245.36 403.68,244.16 406.25,243 408.82,241.89 411.4,240.88 413.98,239.94 416.55,239.08 419.12,238.28 421.7,237.52 424.27,236.82 426.85,236.15 429.43,235.52 432,234.66 434.57,233.77 437.15,232.93 439.73,232.12 442.3,231.35 444.88,230.61 447.45,229.9 450.02,229.21 452.6,228.55 455.18,227.92 457.75,227.3" fill="none" stroke="#c98676" stroke-width="0.8" />
<circle cx="380.5" cy="326" r="1.75" fill="#c98676" stroke="#3a1a14" stroke-width="0.45"/>
<circle cx="383.07" cy="261" r="1.75" fill="#c98676" stroke="#3a1a14" stroke-width="0.45"/>
<circle cx="385.65" cy="256.2" r="1.75" fill="#c98676" stroke="#3a1a14" stroke-width="0.45"/>
<circle cx="388.23" cy="253.4" r="1.75" fill="#c98676" stroke="#3a1a14" stroke-width="0.45"/>
<circle cx="390.8" cy="251.44" r="1.75" fill="#c98676" stroke="#3a1a14" stroke-width="0.45"/>
<circle cx="393.38" cy="249.92" r="1.75" fill="#c98676" stroke="#3a1a14" stroke-width="0.45"/>
<circle cx="395.95" cy="248.32" r="1.75" fill="#c98676" stroke="#3a1a14" stroke-width="0.45"/>
<circle cx="398.52" cy="246.74" r="1.75" fill="#c98676" stroke="#3a1a14" stroke-width="0.45"/>
<circle cx="401.1" cy="245.36" r="1.75" fill="#c98676" stroke="#3a1a14" stroke-width="0.45"/>
<circle cx="403.68" cy="244.16" r="1.75" fill="#c98676" stroke="#3a1a14" stroke-width="0.45"/>
<circle cx="406.25" cy="243" r="1.75" fill="#c98676" stroke="#3a1a14" stroke-width="0.45"/>
<circle cx="408.82" cy="241.89" r="1.75" fill="#c98676" stroke="#3a1a14" stroke-width="0.45"/>
<circle cx="411.4" cy="240.88" r="1.75" fill="#c98676" stroke="#3a1a14" stroke-width="0.45"/>
<circle cx="413.98" cy="239.94" r="1.75" fill="#c98676" stroke="#3a1a14" stroke-width="0.45"/>
<circle cx="416.55" cy="239.08" r="1.75" fill="#c98676" stroke="#3a1a14" stroke-width="0.45"/>
<circle cx="419.12" cy="238.28" r="1.75" fill="#c98676" stroke="#3a1a14" stroke-width="0.45"/>
<circle cx="421.7" cy="237.52" r="1.75" fill="#c98676" stroke="#3a1a14" stroke-width="0.45"/>
<circle cx="424.27" cy="236.82" r="1.75" fill="#c98676" stroke="#3a1a14" stroke-width="0.45"/>
<circle cx="426.85" cy="236.15" r="1.75" fill="#c98676" stroke="#3a1a14" stroke-width="0.45"/>
<circle cx="429.43" cy="235.52" r="1.75" fill="#c98676" stroke="#3a1a14" stroke-width="0.45"/>
<circle cx="432" cy="234.66" r="1.75" fill="#c98676" stroke="#3a1a14" stroke-width="0.45"/>
<circle cx="434.57" cy="233.77" r="1.75" fill="#c98676" stroke="#3a1a14" stroke-width="0.45"/>
<circle cx="437.15" cy="232.93" r="1.75" fill="#c98676" stroke="#3a1a14" stroke-width="0.45"/>
<circle cx="439.73" cy="232.12" r="1.75" fill="#c98676" stroke="#3a1a14" stroke-width="0.45"/>
<circle cx="442.3" cy="231.35" r="1.75" fill="#c98676" stroke="#3a1a14" stroke-width="0.45"/>
<circle cx="444.88" cy="230.61" r="1.75" fill="#c98676" stroke="#3a1a14" stroke-width="0.45"/>
<circle cx="447.45" cy="229.9" r="1.75" fill="#c98676" stroke="#3a1a14" stroke-width="0.45"/>
<circle cx="450.02" cy="229.21" r="1.75" fill="#c98676" stroke="#3a1a14" stroke-width="0.45"/>
<circle cx="452.6" cy="228.55" r="1.75" fill="#c98676" stroke="#3a1a14" stroke-width="0.45"/>
<circle cx="455.18" cy="227.92" r="1.75" fill="#c98676" stroke="#3a1a14" stroke-width="0.45"/>
<circle cx="457.75" cy="227.3" r="1.75" fill="#c98676" stroke="#3a1a14" stroke-width="0.45"/>
<polyline points="380.5,322 383.07,252 385.65,248.22 388.23,245.29 390.8,242.6 393.38,240.99 395.95,239.67 398.52,238.18 401.1,236.66 403.68,235.32 406.25,234.11 408.82,233.01 411.4,232.01 413.98,231.09 416.55,230.24 419.12,229.44 421.7,228.7 424.27,228 426.85,227.34 429.43,226.72 432,225.85 434.57,224.95 437.15,224.1 439.73,223.28 442.3,222.5 444.88,221.75 447.45,221.03 450.02,220.34 452.6,219.67 455.18,219.02 457.75,218.4" fill="none" stroke="#e86c4a" stroke-width="0.8" />
<circle cx="380.5" cy="322" r="1.75" fill="#e86c4a" stroke="#3a1a14" stroke-width="0.45"/>
<circle cx="383.07" cy="252" r="1.75" fill="#e86c4a" stroke="#3a1a14" stroke-width="0.45"/>
<circle cx="385.65" cy="248.22" r="1.75" fill="#e86c4a" stroke="#3a1a14" stroke-width="0.45"/>
<circle cx="388.23" cy="245.29" r="1.75" fill="#e86c4a" stroke="#3a1a14" stroke-width="0.45"/>
<circle cx="390.8" cy="242.6" r="1.75" fill="#e86c4a" stroke="#3a1a14" stroke-width="0.45"/>
<circle cx="393.38" cy="240.99" r="1.75" fill="#e86c4a" stroke="#3a1a14" stroke-width="0.45"/>
<circle cx="395.95" cy="239.67" r="1.75" fill="#e86c4a" stroke="#3a1a14" stroke-width="0.45"/>
<circle cx="398.52" cy="238.18" r="1.75" fill="#e86c4a" stroke="#3a1a14" stroke-width="0.45"/>
<circle cx="401.1" cy="236.66" r="1.75" fill="#e86c4a" stroke="#3a1a14" stroke-width="0.45"/>
<circle cx="403.68" cy="235.32" r="1.75" fill="#e86c4a" stroke="#3a1a14" stroke-width="0.45"/>
<circle cx="406.25" cy="234.11" r="1.75" fill="#e86c4a" stroke="#3a1a14" stroke-width="0.45"/>
<circle cx="408.82" cy="233.01" r="1.75" fill="#e86c4a" stroke="#3a1a14" stroke-width="0.45"/>
<circle cx="411.4" cy="232.01" r="1.75" fill="#e86c4a" stroke="#3a1a14" stroke-width="0.45"/>
<circle cx="413.98" cy="231.09" r="1.75" fill="#e86c4a" stroke="#3a1a14" stroke-width="0.45"/>
<circle cx="416.55" cy="230.24" r="1.75" fill="#e86c4a" stroke="#3a1a14" stroke-width="0.45"/>
<circle cx="419.12" cy="229.44" r="1.75" fill="#e86c4a" stroke="#3a1a14" stroke-width="0.45"/>
<circle cx="421.7" cy="228.7" r="1.75" fill="#e86c4a" stroke="#3a1a14" stroke-width="0.45"/>
<circle cx="424.27" cy="228" r="1.75" fill="#e86c4a" stroke="#3a1a14" stroke-width="0.45"/>
<circle cx="426.85" cy="227.34" r="1.75" fill="#e86c4a" stroke="#3a1a14" stroke-width="0.45"/>
<circle cx="429.43" cy="226.72" r="1.75" fill="#e86c4a" stroke="#3a1a14" stroke-width="0.45"/>
<circle cx="432" cy="225.85" r="1.75" fill="#e86c4a" stroke="#3a1a14" stroke-width="0.45"/>
<circle cx="434.57" cy="224.95" r="1.75" fill="#e86c4a" stroke="#3a1a14" stroke-width="0.45"/>
<circle cx="437.15" cy="224.1" r="1.75" fill="#e86c4a" stroke="#3a1a14" stroke-width="0.45"/>
<circle cx="439.73" cy="223.28" r="1.75" fill="#e86c4a" stroke="#3a1a14" stroke-width="0.45"/>
<circle cx="442.3" cy="222.5" r="1.75" fill="#e86c4a" stroke="#3a1a14" stroke-width="0.45"/>
<circle cx="444.88" cy="221.75" r="1.75" fill="#e86c4a" stroke="#3a1a14" stroke-width="0.45"/>
<circle cx="447.45" cy="221.03" r="1.75" fill="#e86c4a" stroke="#3a1a14" stroke-width="0.45"/>
<circle cx="450.02" cy="220.34" r="1.75" fill="#e86c4a" stroke="#3a1a14" stroke-width="0.45"/>
<circle cx="452.6" cy="219.67" r="1.75" fill="#e86c4a" stroke="#3a1a14" stroke-width="0.45"/>
<circle cx="455.18" cy="219.02" r="1.75" fill="#e86c4a" stroke="#3a1a14" stroke-width="0.45"/>
<circle cx="457.75" cy="218.4" r="1.75" fill="#e86c4a" stroke="#3a1a14" stroke-width="0.45"/>
<polyline points="380.5,319 383.07,250.5 385.65,244.36 388.23,240.77 390.8,237.64 393.38,234.7 395.95,232.3 398.52,230.39 401.1,228.73 403.68,227.27 406.25,226.13 408.82,225.25 411.4,224.44 413.98,223.7 416.55,223.02 419.12,222.38 421.7,221.78 424.27,221.22 426.85,220.7 429.43,220.2 432,219.57 434.57,218.94 437.15,218.33 439.73,217.75 442.3,217.2 444.88,216.67 447.45,216.16 450.02,215.67 452.6,215.2 455.18,214.74 457.75,214.3" fill="none" stroke="#c04222" stroke-width="0.8" />
<circle cx="380.5" cy="319" r="1.75" fill="#c04222" stroke="#3a1a14" stroke-width="0.45"/>
<circle cx="383.07" cy="250.5" r="1.75" fill="#c04222" stroke="#3a1a14" stroke-width="0.45"/>
<circle cx="385.65" cy="244.36" r="1.75" fill="#c04222" stroke="#3a1a14" stroke-width="0.45"/>
<circle cx="388.23" cy="240.77" r="1.75" fill="#c04222" stroke="#3a1a14" stroke-width="0.45"/>
<circle cx="390.8" cy="237.64" r="1.75" fill="#c04222" stroke="#3a1a14" stroke-width="0.45"/>
<circle cx="393.38" cy="234.7" r="1.75" fill="#c04222" stroke="#3a1a14" stroke-width="0.45"/>
<circle cx="395.95" cy="232.3" r="1.75" fill="#c04222" stroke="#3a1a14" stroke-width="0.45"/>
<circle cx="398.52" cy="230.39" r="1.75" fill="#c04222" stroke="#3a1a14" stroke-width="0.45"/>
<circle cx="401.1" cy="228.73" r="1.75" fill="#c04222" stroke="#3a1a14" stroke-width="0.45"/>
<circle cx="403.68" cy="227.27" r="1.75" fill="#c04222" stroke="#3a1a14" stroke-width="0.45"/>
<circle cx="406.25" cy="226.13" r="1.75" fill="#c04222" stroke="#3a1a14" stroke-width="0.45"/>
<circle cx="408.82" cy="225.25" r="1.75" fill="#c04222" stroke="#3a1a14" stroke-width="0.45"/>
<circle cx="411.4" cy="224.44" r="1.75" fill="#c04222" stroke="#3a1a14" stroke-width="0.45"/>
<circle cx="413.98" cy="223.7" r="1.75" fill="#c04222" stroke="#3a1a14" stroke-width="0.45"/>
<circle cx="416.55" cy="223.02" r="1.75" fill="#c04222" stroke="#3a1a14" stroke-width="0.45"/>
<circle cx="419.12" cy="222.38" r="1.75" fill="#c04222" stroke="#3a1a14" stroke-width="0.45"/>
<circle cx="421.7" cy="221.78" r="1.75" fill="#c04222" stroke="#3a1a14" stroke-width="0.45"/>
<circle cx="424.27" cy="221.22" r="1.75" fill="#c04222" stroke="#3a1a14" stroke-width="0.45"/>
<circle cx="426.85" cy="220.7" r="1.75" fill="#c04222" stroke="#3a1a14" stroke-width="0.45"/>
<circle cx="429.43" cy="220.2" r="1.75" fill="#c04222" stroke="#3a1a14" stroke-width="0.45"/>
<circle cx="432" cy="219.57" r="1.75" fill="#c04222" stroke="#3a1a14" stroke-width="0.45"/>
<circle cx="434.57" cy="218.94" r="1.75" fill="#c04222" stroke="#3a1a14" stroke-width="0.45"/>
<circle cx="437.15" cy="218.33" r="1.75" fill="#c04222" stroke="#3a1a14" stroke-width="0.45"/>
<circle cx="439.73" cy="217.75" r="1.75" fill="#c04222" stroke="#3a1a14" stroke-width="0.45"/>
<circle cx="442.3" cy="217.2" r="1.75" fill="#c04222" stroke="#3a1a14" stroke-width="0.45"/>
<circle cx="444.88" cy="216.67" r="1.75" fill="#c04222" stroke="#3a1a14" stroke-width="0.45"/>
<circle cx="447.45" cy="216.16" r="1.75" fill="#c04222" stroke="#3a1a14" stroke-width="0.45"/>
<circle cx="450.02" cy="215.67" r="1.75" fill="#c04222" stroke="#3a1a14" stroke-width="0.45"/>
<circle cx="452.6" cy="215.2" r="1.75" fill="#c04222" stroke="#3a1a14" stroke-width="0.45"/>
<circle cx="455.18" cy="214.74" r="1.75" fill="#c04222" stroke="#3a1a14" stroke-width="0.45"/>
<circle cx="457.75" cy="214.3" r="1.75" fill="#c04222" stroke="#3a1a14" stroke-width="0.45"/>
<polyline points="380.5,316 383.07,246.5 385.65,240.36 388.23,236.77 390.8,233.81 393.38,231.16 395.95,229 398.52,227.05 401.1,225.37 403.68,223.88 406.25,222.75 408.82,221.91 411.4,221.14 413.98,220.44 416.55,219.78 419.12,219.18 421.7,218.61 424.27,218.07 426.85,217.57 429.43,217.09 432,216.51 434.57,215.92 437.15,215.35 439.73,214.81 442.3,214.3 444.88,213.81 447.45,213.33 450.02,212.87 452.6,212.43 455.18,212.01 457.75,211.6" fill="none" stroke="#e04020" stroke-width="0.8" />
<circle cx="380.5" cy="316" r="1.75" fill="#e04020" stroke="#3a1a14" stroke-width="0.45"/>
<circle cx="383.07" cy="246.5" r="1.75" fill="#e04020" stroke="#3a1a14" stroke-width="0.45"/>
<circle cx="385.65" cy="240.36" r="1.75" fill="#e04020" stroke="#3a1a14" stroke-width="0.45"/>
<circle cx="388.23" cy="236.77" r="1.75" fill="#e04020" stroke="#3a1a14" stroke-width="0.45"/>
<circle cx="390.8" cy="233.81" r="1.75" fill="#e04020" stroke="#3a1a14" stroke-width="0.45"/>
<circle cx="393.38" cy="231.16" r="1.75" fill="#e04020" stroke="#3a1a14" stroke-width="0.45"/>
<circle cx="395.95" cy="229" r="1.75" fill="#e04020" stroke="#3a1a14" stroke-width="0.45"/>
<circle cx="398.52" cy="227.05" r="1.75" fill="#e04020" stroke="#3a1a14" stroke-width="0.45"/>
<circle cx="401.1" cy="225.37" r="1.75" fill="#e04020" stroke="#3a1a14" stroke-width="0.45"/>
<circle cx="403.68" cy="223.88" r="1.75" fill="#e04020" stroke="#3a1a14" stroke-width="0.45"/>
<circle cx="406.25" cy="222.75" r="1.75" fill="#e04020" stroke="#3a1a14" stroke-width="0.45"/>
<circle cx="408.82" cy="221.91" r="1.75" fill="#e04020" stroke="#3a1a14" stroke-width="0.45"/>
<circle cx="411.4" cy="221.14" r="1.75" fill="#e04020" stroke="#3a1a14" stroke-width="0.45"/>
<circle cx="413.98" cy="220.44" r="1.75" fill="#e04020" stroke="#3a1a14" stroke-width="0.45"/>
<circle cx="416.55" cy="219.78" r="1.75" fill="#e04020" stroke="#3a1a14" stroke-width="0.45"/>
<circle cx="419.12" cy="219.18" r="1.75" fill="#e04020" stroke="#3a1a14" stroke-width="0.45"/>
<circle cx="421.7" cy="218.61" r="1.75" fill="#e04020" stroke="#3a1a14" stroke-width="0.45"/>
<circle cx="424.27" cy="218.07" r="1.75" fill="#e04020" stroke="#3a1a14" stroke-width="0.45"/>
<circle cx="426.85" cy="217.57" r="1.75" fill="#e04020" stroke="#3a1a14" stroke-width="0.45"/>
<circle cx="429.43" cy="217.09" r="1.75" fill="#e04020" stroke="#3a1a14" stroke-width="0.45"/>
<circle cx="432" cy="216.51" r="1.75" fill="#e04020" stroke="#3a1a14" stroke-width="0.45"/>
<circle cx="434.57" cy="215.92" r="1.75" fill="#e04020" stroke="#3a1a14" stroke-width="0.45"/>
<circle cx="437.15" cy="215.35" r="1.75" fill="#e04020" stroke="#3a1a14" stroke-width="0.45"/>
<circle cx="439.73" cy="214.81" r="1.75" fill="#e04020" stroke="#3a1a14" stroke-width="0.45"/>
<circle cx="442.3" cy="214.3" r="1.75" fill="#e04020" stroke="#3a1a14" stroke-width="0.45"/>
<circle cx="444.88" cy="213.81" r="1.75" fill="#e04020" stroke="#3a1a14" stroke-width="0.45"/>
<circle cx="447.45" cy="213.33" r="1.75" fill="#e04020" stroke="#3a1a14" stroke-width="0.45"/>
<circle cx="450.02" cy="212.87" r="1.75" fill="#e04020" stroke="#3a1a14" stroke-width="0.45"/>
<circle cx="452.6" cy="212.43" r="1.75" fill="#e04020" stroke="#3a1a14" stroke-width="0.45"/>
<circle cx="455.18" cy="212.01" r="1.75" fill="#e04020" stroke="#3a1a14" stroke-width="0.45"/>
<circle cx="457.75" cy="211.6" r="1.75" fill="#e04020" stroke="#3a1a14" stroke-width="0.45"/>
<polyline points="380.5,313 383.07,241.5 385.65,235.36 388.23,231.77 390.8,229.01 393.38,226.69 395.95,224.8 398.52,223.12 401.1,221.67 403.68,220.39 406.25,219.35 408.82,218.51 411.4,217.74 413.98,217.04 416.55,216.38 419.12,215.78 421.7,215.21 424.27,214.67 426.85,214.17 429.43,213.69 432,213.11 434.57,212.52 437.15,211.95 439.73,211.41 442.3,210.9 444.88,210.41 447.45,209.93 450.02,209.47 452.6,209.03 455.18,208.61 457.75,208.2" fill="none" stroke="#a80000" stroke-width="0.8" />
<circle cx="380.5" cy="313" r="1.75" fill="#a80000" stroke="#3a1a14" stroke-width="0.45"/>
<circle cx="383.07" cy="241.5" r="1.75" fill="#a80000" stroke="#3a1a14" stroke-width="0.45"/>
<circle cx="385.65" cy="235.36" r="1.75" fill="#a80000" stroke="#3a1a14" stroke-width="0.45"/>
<circle cx="388.23" cy="231.77" r="1.75" fill="#a80000" stroke="#3a1a14" stroke-width="0.45"/>
<circle cx="390.8" cy="229.01" r="1.75" fill="#a80000" stroke="#3a1a14" stroke-width="0.45"/>
<circle cx="393.38" cy="226.69" r="1.75" fill="#a80000" stroke="#3a1a14" stroke-width="0.45"/>
<circle cx="395.95" cy="224.8" r="1.75" fill="#a80000" stroke="#3a1a14" stroke-width="0.45"/>
<circle cx="398.52" cy="223.12" r="1.75" fill="#a80000" stroke="#3a1a14" stroke-width="0.45"/>
<circle cx="401.1" cy="221.67" r="1.75" fill="#a80000" stroke="#3a1a14" stroke-width="0.45"/>
<circle cx="403.68" cy="220.39" r="1.75" fill="#a80000" stroke="#3a1a14" stroke-width="0.45"/>
<circle cx="406.25" cy="219.35" r="1.75" fill="#a80000" stroke="#3a1a14" stroke-width="0.45"/>
<circle cx="408.82" cy="218.51" r="1.75" fill="#a80000" stroke="#3a1a14" stroke-width="0.45"/>
<circle cx="411.4" cy="217.74" r="1.75" fill="#a80000" stroke="#3a1a14" stroke-width="0.45"/>
<circle cx="413.98" cy="217.04" r="1.75" fill="#a80000" stroke="#3a1a14" stroke-width="0.45"/>
<circle cx="416.55" cy="216.38" r="1.75" fill="#a80000" stroke="#3a1a14" stroke-width="0.45"/>
<circle cx="419.12" cy="215.78" r="1.75" fill="#a80000" stroke="#3a1a14" stroke-width="0.45"/>
<circle cx="421.7" cy="215.21" r="1.75" fill="#a80000" stroke="#3a1a14" stroke-width="0.45"/>
<circle cx="424.27" cy="214.67" r="1.75" fill="#a80000" stroke="#3a1a14" stroke-width="0.45"/>
<circle cx="426.85" cy="214.17" r="1.75" fill="#a80000" stroke="#3a1a14" stroke-width="0.45"/>
<circle cx="429.43" cy="213.69" r="1.75" fill="#a80000" stroke="#3a1a14" stroke-width="0.45"/>
<circle cx="432" cy="213.11" r="1.75" fill="#a80000" stroke="#3a1a14" stroke-width="0.45"/>
<circle cx="434.57" cy="212.52" r="1.75" fill="#a80000" stroke="#3a1a14" stroke-width="0.45"/>
<circle cx="437.15" cy="211.95" r="1.75" fill="#a80000" stroke="#3a1a14" stroke-width="0.45"/>
<circle cx="439.73" cy="211.41" r="1.75" fill="#a80000" stroke="#3a1a14" stroke-width="0.45"/>
<circle cx="442.3" cy="210.9" r="1.75" fill="#a80000" stroke="#3a1a14" stroke-width="0.45"/>
<circle cx="444.88" cy="210.41" r="1.75" fill="#a80000" stroke="#3a1a14" stroke-width="0.45"/>
<circle cx="447.45" cy="209.93" r="1.75" fill="#a80000" stroke="#3a1a14" stroke-width="0.45"/>
<circle cx="450.02" cy="209.47" r="1.75" fill="#a80000" stroke="#3a1a14" stroke-width="0.45"/>
<circle cx="452.6" cy="209.03" r="1.75" fill="#a80000" stroke="#3a1a14" stroke-width="0.45"/>
<circle cx="455.18" cy="208.61" r="1.75" fill="#a80000" stroke="#3a1a14" stroke-width="0.45"/>
<circle cx="457.75" cy="208.2" r="1.75" fill="#a80000" stroke="#3a1a14" stroke-width="0.45"/>
<line x1="406.3" y1="282.2" x2="425.2" y2="282.2" stroke="#ff1a1a" stroke-width="1.1" />
<circle cx="415.7" cy="282.2" r="1.9" fill="#dd0000" stroke="none" stroke-width="0"/>
<text x="428.2" y="284.8" text-anchor="start" font-size="7.4" fill="#000"  stroke="#000" stroke-width="0.22" stroke-opacity="0.6">1 HIL</text>
<line x1="406.3" y1="292.7" x2="425.2" y2="292.7" stroke="#ff7a55" stroke-width="1.1" />
<circle cx="415.7" cy="292.7" r="1.9" fill="#ee4a22" stroke="none" stroke-width="0"/>
<text x="428.2" y="295.3" text-anchor="start" font-size="7.4" fill="#000"  stroke="#000" stroke-width="0.22" stroke-opacity="0.6">0.8 HIL</text>
<line x1="406.3" y1="302.7" x2="425.2" y2="302.7" stroke="#ffb497" stroke-width="1.1" />
<circle cx="415.7" cy="302.7" r="1.9" fill="#e85a30" stroke="none" stroke-width="0"/>
<text x="428.2" y="305.3" text-anchor="start" font-size="7.4" fill="#000"  stroke="#000" stroke-width="0.22" stroke-opacity="0.6">0.6 HIL</text>
<line x1="406.3" y1="313.2" x2="425.2" y2="313.2" stroke="#e88e74" stroke-width="1.1" />
<circle cx="415.7" cy="313.2" r="1.9" fill="#d06545" stroke="none" stroke-width="0"/>
<text x="428.2" y="315.8" text-anchor="start" font-size="7.4" fill="#000"  stroke="#000" stroke-width="0.22" stroke-opacity="0.6">0.4 HIL</text>
<line x1="406.3" y1="323.4" x2="425.2" y2="323.4" stroke="#c49a8c" stroke-width="1.1" />
<circle cx="415.7" cy="323.4" r="1.9" fill="#a87565" stroke="none" stroke-width="0"/>
<text x="428.2" y="326" text-anchor="start" font-size="7.4" fill="#000"  stroke="#000" stroke-width="0.22" stroke-opacity="0.6">0.2 HIL</text>
<text x="387.4" y="209.7" text-anchor="start" font-size="9.1" fill="#000"  stroke="#000" stroke-width="0.22" stroke-opacity="0.6">4 × 4 μm<tspan font-size="5.5" dy="-3.3">2</tspan></text>
<text x="490.5" y="200" text-anchor="start" font-size="15" fill="#000" font-weight="bold">f</text>
<defs><clipPath id="clipb"><path d="M532.8,269.5 C537.33,269.5 551.8,269.72 560,269.5 C568.2,269.28 574.5,269.2 582,268.2 C589.5,267.2 597.83,265.53 605,263.5 C612.17,261.47 618.33,259.32 625,256 C631.67,252.68 638.33,247.93 645,243.6 C651.67,239.27 659.97,233.77 665,230 C670.03,226.23 673.5,222.5 675.2,221 L675.2,253.9 C673.5,254.25 668.87,255.07 665,256 C661.13,256.93 656.17,258 652,259.5 C647.83,261 644.5,262.67 640,265 C635.5,267.33 630.83,270.92 625,273.5 C619.17,276.08 612.17,278.83 605,280.5 C597.83,282.17 589.5,282.82 582,283.5 C574.5,284.18 568.2,284.32 560,284.6 C551.8,284.88 537.33,285.1 532.8,285.2 Z"/></clipPath></defs>
<path d="M532.8,260 C541,259.82 569.97,259.35 582,258.9 C594.03,258.45 597.83,257.73 605,257.3 C612.17,256.87 619.17,256.63 625,256.3 C630.83,255.97 635.5,255.48 640,255.3 C644.5,255.12 647.83,254.92 652,255.2 C656.17,255.48 661.13,256.53 665,257 C668.87,257.47 673.5,257.83 675.2,258 L675.2,277.4 C673.5,276.88 668.87,275.53 665,274.3 C661.13,273.07 656.17,271.18 652,270 C647.83,268.82 644.5,267.73 640,267.2 C635.5,266.67 630.83,266.53 625,266.8 C619.17,267.07 612.17,268.27 605,268.8 C597.83,269.33 590.83,269.57 582,270 C573.17,270.43 560.2,271.07 552,271.4 C543.8,271.73 536,271.9 532.8,272 Z" fill="#7ec1b9"/>
<path d="M532.8,269.5 C537.33,269.5 551.8,269.72 560,269.5 C568.2,269.28 574.5,269.2 582,268.2 C589.5,267.2 597.83,265.53 605,263.5 C612.17,261.47 618.33,259.32 625,256 C631.67,252.68 638.33,247.93 645,243.6 C651.67,239.27 659.97,233.77 665,230 C670.03,226.23 673.5,222.5 675.2,221 L675.2,253.9 C673.5,254.25 668.87,255.07 665,256 C661.13,256.93 656.17,258 652,259.5 C647.83,261 644.5,262.67 640,265 C635.5,267.33 630.83,270.92 625,273.5 C619.17,276.08 612.17,278.83 605,280.5 C597.83,282.17 589.5,282.82 582,283.5 C574.5,284.18 568.2,284.32 560,284.6 C551.8,284.88 537.33,285.1 532.8,285.2 Z" fill="#8a8af5"/>
<path d="M532.8,260 C541,259.82 569.97,259.35 582,258.9 C594.03,258.45 597.83,257.73 605,257.3 C612.17,256.87 619.17,256.63 625,256.3 C630.83,255.97 635.5,255.48 640,255.3 C644.5,255.12 647.83,254.92 652,255.2 C656.17,255.48 661.13,256.53 665,257 C668.87,257.47 673.5,257.83 675.2,258 L675.2,277.4 C673.5,276.88 668.87,275.53 665,274.3 C661.13,273.07 656.17,271.18 652,270 C647.83,268.82 644.5,267.73 640,267.2 C635.5,266.67 630.83,266.53 625,266.8 C619.17,267.07 612.17,268.27 605,268.8 C597.83,269.33 590.83,269.57 582,270 C573.17,270.43 560.2,271.07 552,271.4 C543.8,271.73 536,271.9 532.8,272 Z" fill="#5f80d8" clip-path="url(#clipb)"/>
<line x1="524" y1="198.8" x2="684.3" y2="198.8" stroke="#9a9a9a" stroke-width="1.4" />
<line x1="684.3" y1="199.5" x2="684.3" y2="333.5" stroke="#333" stroke-width="1" />
<line x1="524" y1="199.5" x2="524" y2="333.5" stroke="#a0a0a0" stroke-width="1.5" />
<line x1="524" y1="333.5" x2="684.3" y2="333.5" stroke="#333" stroke-width="1" />
<line x1="521.7" y1="333.5" x2="523.3" y2="333.5" stroke="#222" stroke-width="0.8" />
<line x1="520.3" y1="321.3" x2="523.3" y2="321.3" stroke="#222" stroke-width="0.8" />
<line x1="521.7" y1="309.1" x2="523.3" y2="309.1" stroke="#222" stroke-width="0.8" />
<line x1="520.3" y1="296.9" x2="523.3" y2="296.9" stroke="#222" stroke-width="0.8" />
<line x1="521.7" y1="284.7" x2="523.3" y2="284.7" stroke="#222" stroke-width="0.8" />
<line x1="520.3" y1="272.5" x2="523.3" y2="272.5" stroke="#222" stroke-width="0.8" />
<line x1="521.7" y1="260.3" x2="523.3" y2="260.3" stroke="#222" stroke-width="0.8" />
<line x1="520.3" y1="248.1" x2="523.3" y2="248.1" stroke="#222" stroke-width="0.8" />
<line x1="521.7" y1="235.9" x2="523.3" y2="235.9" stroke="#222" stroke-width="0.8" />
<line x1="520.3" y1="223.7" x2="523.3" y2="223.7" stroke="#222" stroke-width="0.8" />
<line x1="521.7" y1="211.5" x2="523.3" y2="211.5" stroke="#222" stroke-width="0.8" />
<line x1="520.3" y1="199.3" x2="523.3" y2="199.3" stroke="#222" stroke-width="0.8" />
<text x="517" y="324.3" text-anchor="end" font-size="8.8" fill="#000"  stroke="#000" stroke-width="0.22" stroke-opacity="0.6">2</text>
<text x="517" y="299.9" text-anchor="end" font-size="8.8" fill="#000"  stroke="#000" stroke-width="0.22" stroke-opacity="0.6">4</text>
<text x="517" y="275.5" text-anchor="end" font-size="8.8" fill="#000"  stroke="#000" stroke-width="0.22" stroke-opacity="0.6">6</text>
<text x="517" y="251.1" text-anchor="end" font-size="8.8" fill="#000"  stroke="#000" stroke-width="0.22" stroke-opacity="0.6">8</text>
<text x="517" y="226.7" text-anchor="end" font-size="8.8" fill="#000"  stroke="#000" stroke-width="0.22" stroke-opacity="0.6">10</text>
<text x="517" y="202.3" text-anchor="end" font-size="8.8" fill="#000"  stroke="#000" stroke-width="0.22" stroke-opacity="0.6">12</text>
<line x1="532.8" y1="333.5" x2="532.8" y2="336.5" stroke="#222" stroke-width="0.7" />
<line x1="550.56" y1="333.5" x2="550.56" y2="335.1" stroke="#222" stroke-width="0.7" />
<line x1="568.32" y1="333.5" x2="568.32" y2="336.5" stroke="#222" stroke-width="0.7" />
<line x1="586.09" y1="333.5" x2="586.09" y2="335.1" stroke="#222" stroke-width="0.7" />
<line x1="603.85" y1="333.5" x2="603.85" y2="336.5" stroke="#222" stroke-width="0.7" />
<line x1="621.61" y1="333.5" x2="621.61" y2="335.1" stroke="#222" stroke-width="0.7" />
<line x1="639.38" y1="333.5" x2="639.38" y2="336.5" stroke="#222" stroke-width="0.7" />
<line x1="657.14" y1="333.5" x2="657.14" y2="335.1" stroke="#222" stroke-width="0.7" />
<line x1="674.9" y1="333.5" x2="674.9" y2="336.5" stroke="#222" stroke-width="0.7" />
<text x="532.8" y="349" text-anchor="middle" font-size="8.8" fill="#000"  stroke="#000" stroke-width="0.22" stroke-opacity="0.6">1.0</text>
<text x="568.32" y="349" text-anchor="middle" font-size="8.8" fill="#000"  stroke="#000" stroke-width="0.22" stroke-opacity="0.6">0.8</text>
<text x="603.85" y="349" text-anchor="middle" font-size="8.8" fill="#000"  stroke="#000" stroke-width="0.22" stroke-opacity="0.6">0.6</text>
<text x="639.38" y="349" text-anchor="middle" font-size="8.8" fill="#000"  stroke="#000" stroke-width="0.22" stroke-opacity="0.6">0.4</text>
<text x="674.9" y="349" text-anchor="middle" font-size="8.8" fill="#000"  stroke="#000" stroke-width="0.22" stroke-opacity="0.6">0.2</text>
<text x="604" y="364.8" text-anchor="middle" font-size="9.1" fill="#000"  stroke="#000" stroke-width="0.22" stroke-opacity="0.6">Concentration of HIL</text>
<text transform="translate(500,265) rotate(-90)" text-anchor="middle" font-size="9.1" fill="#000" stroke="#000" stroke-width="0.22" stroke-opacity="0.6">Peak EQE (%)</text>
<polyline points="532.7,266.5 568.7,263.5 604,263.6 639.5,261.4 675.2,268.5" fill="none" stroke="#222" stroke-width="0.8" />
<polyline points="532.7,276.8 568.7,277.1 604,274 639.5,258.2 675.2,236.4" fill="none" stroke="#1515f0" stroke-width="0.9" />
<path d="M532.7,264.2 L535,268.2 L530.4,268.2 Z" fill="#fff" stroke="#111" stroke-width="0.9"/>
<path d="M568.7,261.2 L571,265.2 L566.4,265.2 Z" fill="#fff" stroke="#111" stroke-width="0.9"/>
<path d="M604,261.3 L606.3,265.3 L601.7,265.3 Z" fill="#fff" stroke="#111" stroke-width="0.9"/>
<path d="M639.5,259.1 L641.8,263.1 L637.2,263.1 Z" fill="#fff" stroke="#111" stroke-width="0.9"/>
<path d="M675.2,266.2 L677.5,270.2 L672.9,270.2 Z" fill="#fff" stroke="#111" stroke-width="0.9"/>
<circle cx="532.7" cy="276.8" r="2.4" fill="#0a0af0" stroke="none" stroke-width="0"/>
<circle cx="568.7" cy="277.1" r="2.4" fill="#0a0af0" stroke="none" stroke-width="0"/>
<circle cx="604" cy="274" r="2.4" fill="#0a0af0" stroke="none" stroke-width="0"/>
<circle cx="639.5" cy="258.2" r="2.4" fill="#0a0af0" stroke="none" stroke-width="0"/>
<circle cx="675.2" cy="236.4" r="2.4" fill="#0a0af0" stroke="none" stroke-width="0"/>
<line x1="584.6" y1="251.8" x2="596" y2="251.8" stroke="#222" stroke-width="1.5" />
<path d="M600.6,251.8 L594,249.4 L595.2,251.8 L594,254.2 Z" fill="#222"/>
<line x1="616.4" y1="286.4" x2="626.5" y2="280.2" stroke="#111" stroke-width="1.5" stroke-dasharray="2.6,1.4"/>
<path d="M630.8,277.4 L623.8,278.6 L626.6,280.6 L626.6,284 Z" fill="#111"/>
<line x1="532.7" y1="207.6" x2="553" y2="207.6" stroke="#9a9a9a" stroke-width="1.5" />
<path d="M542.7,205 L545.3,209.5 L540.1,209.5 Z" fill="#fff" stroke="#111" stroke-width="0.8"/>
<text x="558.2" y="210.6" text-anchor="start" font-size="8.75" fill="#000"  stroke="#000" stroke-width="0.22" stroke-opacity="0.6">Pristine</text>
<line x1="532.7" y1="220.6" x2="553" y2="220.6" stroke="#1515f0" stroke-width="1" />
<circle cx="542.7" cy="220.6" r="2.3" fill="#0a0af0" stroke="none" stroke-width="0"/>
<text x="558.2" y="223.6" text-anchor="start" font-size="8.75" fill="#000"  stroke="#000" stroke-width="0.22" stroke-opacity="0.6">4 × 4 μm<tspan font-size="6" dy="-3.5">2</tspan></text>
</svg></body></html>
